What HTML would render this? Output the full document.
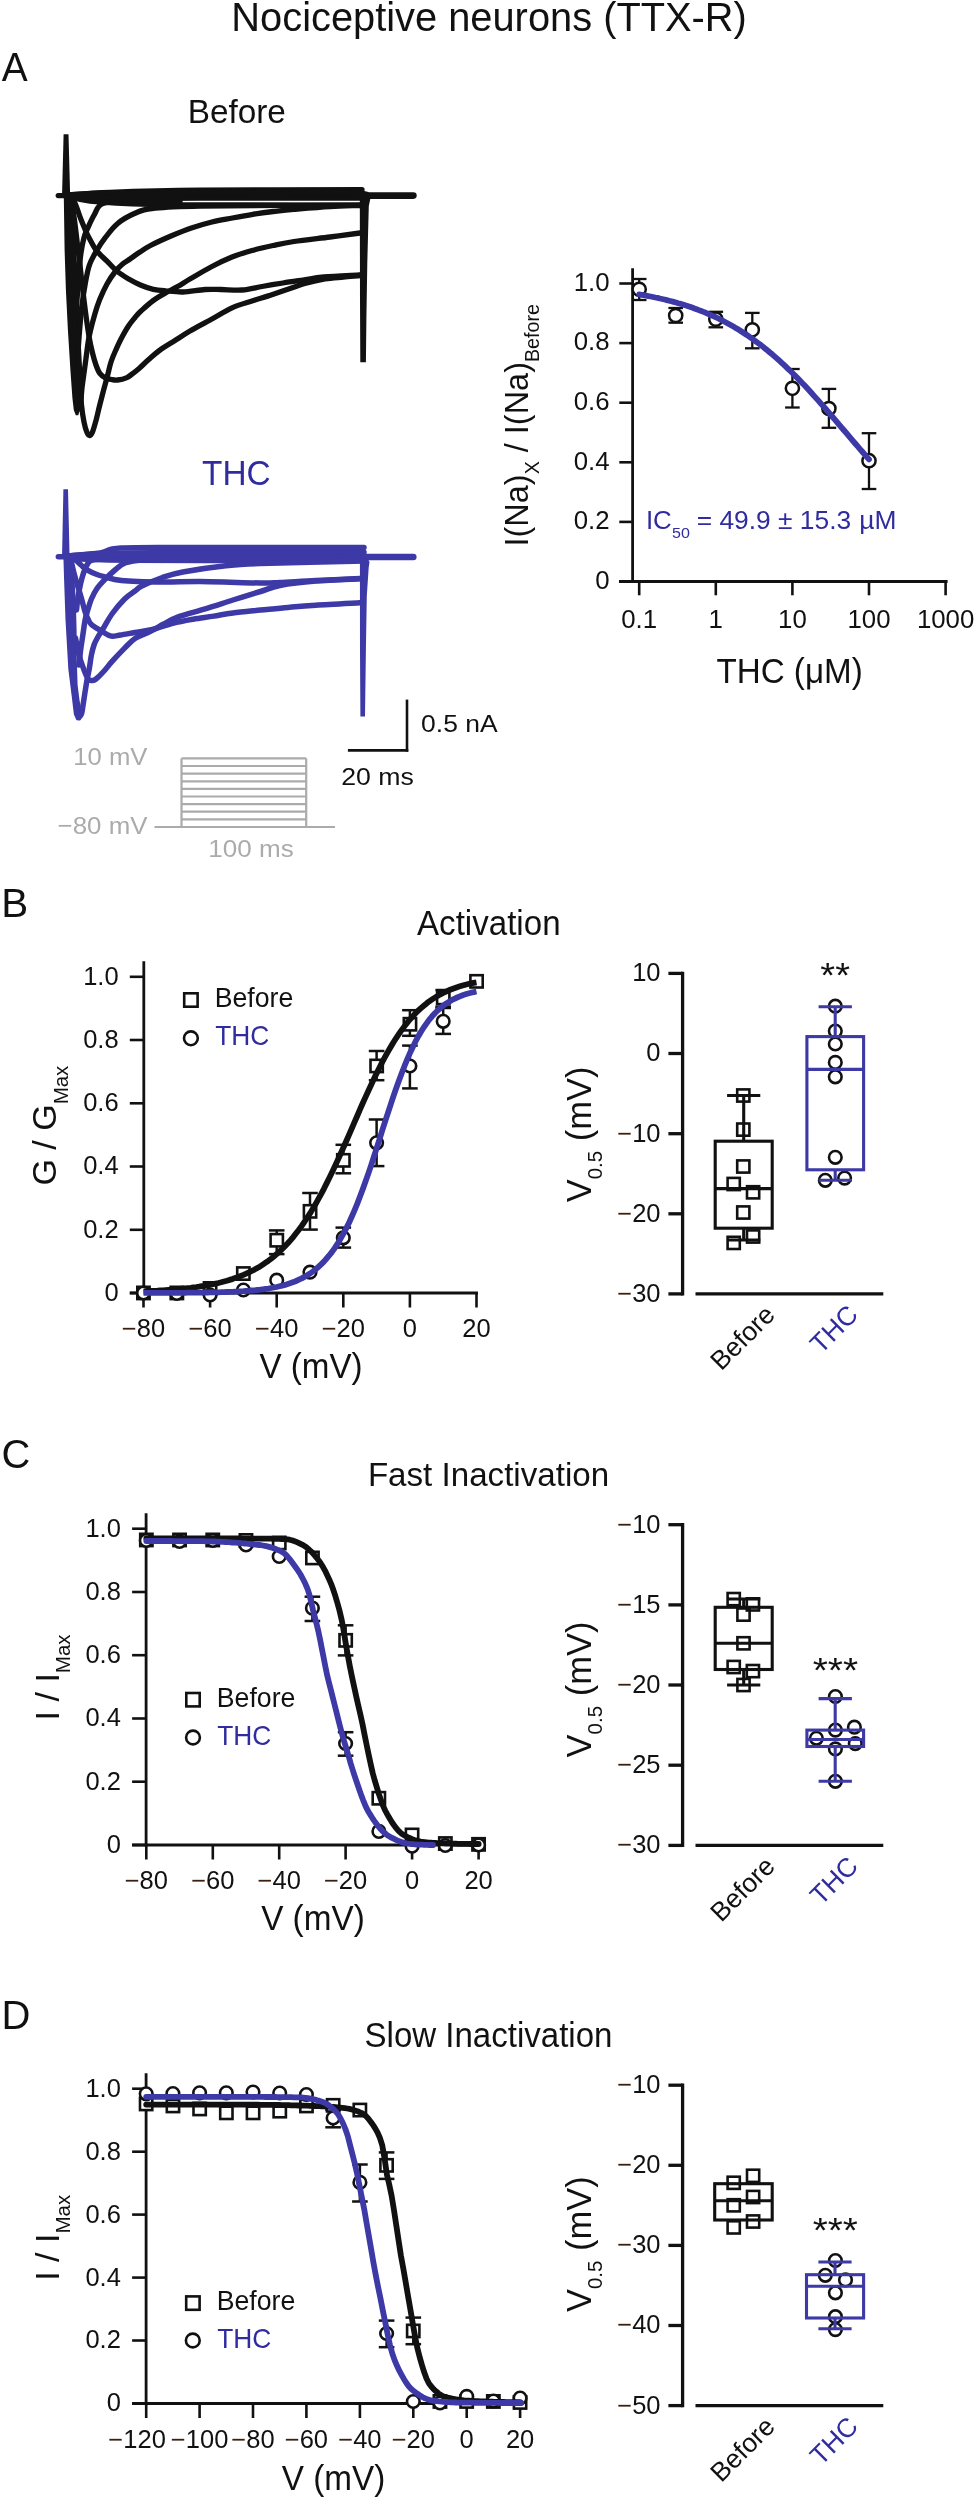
<!DOCTYPE html>
<html><head><meta charset="utf-8"><title>Nociceptive neurons (TTX-R)</title>
<style>
html,body{margin:0;padding:0;background:#fff;}
body{width:977px;height:2500px;overflow:hidden;}
svg{display:block;font-family:"Liberation Sans", sans-serif;will-change:transform;}
</style></head>
<body>
<svg width="977" height="2500" viewBox="0 0 977 2500">
<rect x="0" y="0" width="977" height="2500" fill="#fff"/>
<text x="231.33" y="30.70" font-size="40.8" fill="#111" textLength="515.54" lengthAdjust="spacingAndGlyphs" >Nociceptive neurons (TTX-R)</text>
<text x="1.72" y="80.60" font-size="41" fill="#111" textLength="25.95" lengthAdjust="spacingAndGlyphs" >A</text>
<text x="187.67" y="122.90" font-size="33.2" fill="#111" textLength="98.22" lengthAdjust="spacingAndGlyphs" >Before</text>
<text x="202.05" y="484.80" font-size="34.5" fill="#302ca0" textLength="68.52" lengthAdjust="spacingAndGlyphs" >THC</text>
<path d="M62.0,197.0 L63.6,134.2 L68.5,134.2 L70.2,197.0Z" fill="#111"/>
<path d="M359.8,190.0 L368.5,192.0 L370.5,198.0 L368.8,206.0 L367.3,263.0 L366.4,318.0 L365.9,362.2 L360.3,362.2 L360.0,300.0Z" fill="#111"/>
<path d="M58.2,195.6 L364.0,195.6" stroke="#111" stroke-width="5.2" fill="none" stroke-linejoin="round" stroke-linecap="round"/>
<path d="M364.0,195.6 L413.4,195.6" stroke="#111" stroke-width="6.6" fill="none" stroke-linejoin="round" stroke-linecap="round"/>
<path d="M66.0,195.0 C73.3,194.6 87.7,193.1 110.0,192.3 C132.3,191.5 158.0,190.6 200.0,190.2 C242.0,189.8 335.0,189.7 362.0,189.6" stroke="#111" stroke-width="5.3" fill="none" stroke-linejoin="round" stroke-linecap="round"/>
<path d="M68.0,196.0 C73.3,196.4 78.0,198.1 100.0,198.5 C122.0,198.9 156.3,198.3 200.0,198.2 C243.7,198.1 335.0,198.0 362.0,198.0" stroke="#111" stroke-width="5.3" fill="none" stroke-linejoin="round" stroke-linecap="round"/>
<path d="M68.0,196.0 C71.7,196.8 76.3,199.6 90.0,201.0 C103.7,202.4 123.3,203.6 150.0,204.3 C176.7,205.0 214.7,204.8 250.0,205.0 C285.3,205.2 343.3,205.2 362.0,205.2" stroke="#111" stroke-width="5.3" fill="none" stroke-linejoin="round" stroke-linecap="round"/>
<path d="M66.0,195.0 C73.3,194.7 87.7,193.4 110.0,193.0 C132.3,192.6 158.0,192.6 200.0,192.5 C242.0,192.4 335.0,192.5 362.0,192.5" stroke="#111" stroke-width="5.3" fill="none" stroke-linejoin="round" stroke-linecap="round"/>
<path d="M63.8,197.0 L64.6,250.0 L65.9,290.0 L67.9,330.0 L70.4,370.0 L72.4,398.0 L73.8,410.0 L75.8,415.3 L78.3,415.3 L80.2,408.0 L80.2,380.0 L79.5,340.0 L78.6,300.0 L77.4,270.0 L75.5,240.0 L73.4,215.0 L72.5,205.0 L74.0,199.0 L78.0,198.0Z" fill="#111"/>
<path d="M74.5,328.0 C74.7,325.9 75.3,320.8 75.8,315.2 C76.3,309.6 76.9,301.3 77.4,294.4 C77.9,287.5 78.3,280.5 78.9,273.6 C79.5,266.7 80.1,258.9 81.0,252.8 C81.9,246.7 82.9,241.5 84.1,237.2 C85.3,232.9 86.6,230.6 88.3,226.8 C90.0,223.0 92.1,218.2 94.5,214.3 C96.9,210.4 97.0,205.6 102.9,203.5 C108.8,201.4 117.2,201.8 130.0,201.5 C142.8,201.2 171.7,201.5 180.0,201.5" stroke="#111" stroke-width="5.3" fill="none" stroke-linejoin="round" stroke-linecap="round"/>
<path d="M76.5,378.0 C76.8,372.7 77.8,355.1 78.4,346.4 C79.0,337.7 79.4,332.5 80.0,325.6 C80.6,318.7 81.1,311.7 82.0,304.8 C82.9,297.9 84.0,290.6 85.2,284.0 C86.4,277.4 87.4,270.9 89.3,265.3 C91.2,259.8 94.0,255.2 96.6,250.7 C99.2,246.2 101.4,242.7 104.9,238.2 C108.4,233.7 112.4,227.8 117.4,223.7 C122.4,219.5 129.2,215.8 135.0,213.3 C140.8,210.8 141.2,209.7 152.0,208.5 C162.8,207.3 165.0,206.6 200.0,206.0 C235.0,205.4 335.0,205.3 362.0,205.2" stroke="#111" stroke-width="5.3" fill="none" stroke-linejoin="round" stroke-linecap="round"/>
<path d="M77.5,410.0 C78.0,408.9 79.8,407.3 80.5,403.6 C81.2,399.9 81.4,393.2 82.0,388.0 C82.6,382.8 83.4,377.6 84.1,372.4 C84.8,367.2 85.5,362.0 86.2,356.8 C86.9,351.6 87.6,345.5 88.3,341.2 C89.0,336.9 89.4,335.1 90.4,330.8 C91.4,326.5 93.0,320.4 94.5,315.2 C96.0,310.0 97.6,304.8 99.7,299.6 C101.8,294.4 104.4,288.7 107.0,284.0 C109.6,279.3 112.7,274.8 115.3,271.5 C117.9,268.2 120.1,266.1 122.6,264.0 C125.0,261.9 127.1,261.0 130.0,259.0 C132.9,257.0 136.6,254.2 140.0,252.0 C143.4,249.8 145.3,248.2 150.5,245.5 C155.7,242.8 164.2,238.9 171.0,236.0 C177.8,233.1 184.6,230.3 191.4,228.0 C198.2,225.7 205.1,223.7 211.9,222.0 C218.7,220.3 225.6,219.3 232.4,218.0 C239.2,216.7 246.0,215.4 252.8,214.3 C259.6,213.2 266.5,212.3 273.3,211.5 C280.1,210.7 284.4,210.1 293.8,209.3 C303.2,208.5 319.0,207.1 330.0,206.5 C341.0,205.9 355.0,205.7 360.0,205.5" stroke="#111" stroke-width="5.3" fill="none" stroke-linejoin="round" stroke-linecap="round"/>
<path d="M77.5,330.0 C77.8,335.0 78.5,350.8 79.0,360.0 C79.5,369.2 79.9,377.5 80.3,385.0 C80.7,392.5 80.9,398.8 81.5,405.0 C82.1,411.2 83.1,417.4 84.0,422.0 C84.9,426.6 86.0,430.2 87.0,432.5 C88.0,434.8 88.8,435.6 89.7,435.5 C90.6,435.4 91.5,434.4 92.5,432.0 C93.5,429.6 94.6,425.5 95.8,421.2 C97.0,416.9 98.2,411.1 99.5,406.0 C100.8,400.9 102.2,395.5 103.5,390.5 C104.8,385.5 106.2,380.8 107.4,376.0 C108.7,371.2 109.6,366.3 111.0,362.0 C112.4,357.7 114.1,353.8 115.8,350.0 C117.5,346.2 119.0,342.8 121.0,339.0 C123.0,335.2 125.5,330.6 127.8,327.0 C130.1,323.4 132.8,320.2 135.0,317.5 C137.2,314.8 137.9,313.8 141.0,311.0 C144.1,308.2 149.2,303.5 153.3,300.5 C157.4,297.5 161.4,295.3 165.5,293.0 C169.6,290.7 173.5,288.8 177.6,286.5 C181.7,284.2 184.3,282.3 190.0,279.0 C195.7,275.7 204.9,270.2 211.9,266.5 C218.9,262.8 225.3,259.7 232.0,257.0 C238.7,254.3 245.2,252.4 252.0,250.5 C258.8,248.6 266.0,247.0 273.0,245.5 C280.0,244.0 284.5,242.9 294.0,241.5 C303.5,240.1 319.0,238.4 330.0,237.0 C341.0,235.6 355.0,233.7 360.0,233.0" stroke="#111" stroke-width="5.3" fill="none" stroke-linejoin="round" stroke-linecap="round"/>
<path d="M72.0,205.0 C72.4,207.5 73.6,213.3 74.5,220.0 C75.4,226.7 76.6,237.5 77.5,245.0 C78.4,252.5 79.2,257.8 80.0,265.0 C80.8,272.2 81.6,280.2 82.5,288.0 C83.4,295.8 84.4,303.7 85.5,312.0 C86.6,320.3 88.1,331.2 89.3,338.0 C90.5,344.8 91.4,348.5 92.5,353.0 C93.6,357.5 94.8,361.6 96.0,365.0 C97.2,368.4 98.2,371.2 99.8,373.3 C101.4,375.4 103.5,376.8 105.4,377.8 C107.4,378.8 109.5,379.1 111.5,379.5 C113.5,379.9 115.0,380.3 117.6,380.0 C120.2,379.7 124.3,378.7 126.9,377.6 C129.5,376.5 131.0,374.8 133.0,373.3 C135.0,371.8 136.5,370.6 139.1,368.4 C141.7,366.1 145.0,362.8 148.4,359.8 C151.8,356.8 155.0,353.7 159.4,350.5 C163.8,347.3 169.9,343.8 175.0,340.5 C180.1,337.2 184.0,334.5 190.0,331.0 C196.0,327.5 204.0,323.4 211.0,319.5 C218.0,315.6 225.2,310.9 232.0,307.8 C238.8,304.7 245.2,303.2 252.0,301.0 C258.8,298.8 265.8,296.8 272.6,294.5 C279.4,292.2 287.6,289.3 293.0,287.5 C298.4,285.7 299.5,284.9 304.8,283.5 C310.1,282.1 318.6,280.1 325.0,279.0 C331.4,277.9 337.6,277.6 343.4,277.0 C349.2,276.4 357.2,275.8 360.0,275.5" stroke="#111" stroke-width="5.3" fill="none" stroke-linejoin="round" stroke-linecap="round"/>
<path d="M66.0,196.0 C67.3,196.8 71.2,196.9 73.7,200.8 C76.2,204.7 78.9,214.3 81.0,219.5 C83.1,224.7 84.8,228.9 86.2,232.0 C87.6,235.1 87.6,235.1 89.3,238.2 C91.0,241.3 93.6,246.9 96.6,250.7 C99.5,254.5 103.5,257.6 107.0,261.1 C110.5,264.6 113.8,268.5 117.4,271.5 C121.0,274.5 124.8,276.7 128.7,279.0 C132.6,281.3 136.9,283.5 141.0,285.2 C145.1,286.9 149.2,288.4 153.3,289.3 C157.4,290.2 160.6,290.4 165.5,290.8 C170.4,291.2 176.4,292.2 183.0,292.0 C189.6,291.8 198.7,289.9 205.0,289.5 C211.3,289.1 214.8,289.4 221.0,289.5 C227.2,289.6 235.2,290.5 242.0,290.0 C248.8,289.5 255.2,287.7 262.0,286.5 C268.8,285.3 276.2,284.1 283.0,283.0 C289.8,281.9 296.2,281.0 303.0,280.0 C309.8,279.0 314.5,277.9 324.0,277.0 C333.5,276.1 354.0,275.2 360.0,274.8" stroke="#111" stroke-width="5.3" fill="none" stroke-linejoin="round" stroke-linecap="round"/>
<path d="M62.0,558.0 L63.4,489.2 L68.0,489.2 L69.6,558.0Z" fill="#3d39a6"/>
<path d="M359.9,546.0 L364.5,546.0 L366.5,556.0 L369.5,562.0 L368.7,567.6 L366.8,596.0 L365.9,650.0 L365.0,716.4 L360.4,716.4 L360.0,650.0Z" fill="#3d39a6"/>
<path d="M58.3,556.8 L364.0,556.8" stroke="#3d39a6" stroke-width="5.4" fill="none" stroke-linejoin="round" stroke-linecap="round"/>
<path d="M364.0,557.0 L413.3,557.0" stroke="#3d39a6" stroke-width="6.6" fill="none" stroke-linejoin="round" stroke-linecap="round"/>
<path d="M66.0,556.0 C71.7,555.5 90.8,554.3 100.0,553.0 C109.2,551.7 104.3,548.9 121.0,548.0 C137.7,547.1 159.5,547.6 200.0,547.5 C240.5,547.4 336.7,547.6 364.0,547.6" stroke="#3d39a6" stroke-width="5.5" fill="none" stroke-linejoin="round" stroke-linecap="round"/>
<path d="M66.0,556.0 C73.3,555.6 87.7,554.1 110.0,553.5 C132.3,552.9 157.7,552.4 200.0,552.2 C242.3,552.0 336.7,552.2 364.0,552.2" stroke="#3d39a6" stroke-width="5.5" fill="none" stroke-linejoin="round" stroke-linecap="round"/>
<path d="M80.0,559.0 C88.3,559.2 101.7,560.0 130.0,560.2 C158.3,560.5 211.0,560.5 250.0,560.5 C289.0,560.5 345.0,560.2 364.0,560.2" stroke="#3d39a6" stroke-width="5.5" fill="none" stroke-linejoin="round" stroke-linecap="round"/>
<path d="M63.4,557.0 L64.1,580.0 L65.5,620.0 L68.3,669.0 L71.8,697.0 L73.9,714.6 L76.5,720.2 L80.5,720.2 L82.2,715.0 L79.5,700.0 L77.6,685.0 L76.8,660.0 L76.6,630.0 L75.8,600.0 L74.2,575.0 L72.0,560.0Z" fill="#3d39a6"/>
<path d="M76.5,610.0 C76.7,608.3 77.1,603.5 77.6,600.0 C78.1,596.5 78.8,592.7 79.5,589.0 C80.2,585.3 81.1,581.3 82.0,578.0 C82.9,574.7 83.8,571.8 85.1,569.0 C86.4,566.2 87.5,562.7 90.0,561.0 C92.5,559.3 98.3,559.3 100.0,559.0" stroke="#3d39a6" stroke-width="5.5" fill="none" stroke-linejoin="round" stroke-linecap="round"/>
<path d="M79.0,665.0 C79.3,662.2 80.2,653.2 80.9,648.0 C81.6,642.8 82.3,638.7 83.0,634.0 C83.7,629.3 84.3,624.1 85.1,620.0 C85.9,615.9 86.9,613.0 87.9,609.5 C89.0,606.0 89.9,602.5 91.4,599.0 C92.9,595.5 94.7,591.8 97.0,588.5 C99.3,585.2 102.0,582.5 105.0,579.4 C108.0,576.3 111.7,572.7 115.0,570.0 C118.3,567.3 120.8,564.7 125.0,563.0 C129.2,561.3 137.5,560.5 140.0,560.0" stroke="#3d39a6" stroke-width="5.5" fill="none" stroke-linejoin="round" stroke-linecap="round"/>
<path d="M78.8,717.5 C79.2,716.9 80.8,716.2 81.5,714.0 C82.2,711.8 82.4,709.2 83.2,704.0 C84.0,698.8 85.5,689.0 86.5,683.0 C87.5,677.0 88.6,672.7 89.4,668.0 C90.2,663.3 90.6,658.8 91.4,655.0 C92.2,651.2 93.0,647.9 94.0,645.0 C95.0,642.1 95.9,640.5 97.6,637.5 C99.3,634.5 101.6,631.0 104.1,627.0 C106.5,623.0 108.9,618.2 112.3,613.5 C115.7,608.8 120.8,602.8 124.6,599.0 C128.4,595.2 132.1,593.2 135.0,591.0 C137.9,588.8 137.3,588.2 141.9,586.0 C146.5,583.8 155.6,579.8 162.4,577.5 C169.2,575.2 172.6,573.9 182.8,572.0 C193.0,570.1 210.9,567.4 223.8,566.0 C236.7,564.6 236.6,564.3 260.0,563.5 C283.4,562.7 346.7,561.4 364.0,561.0" stroke="#3d39a6" stroke-width="5.5" fill="none" stroke-linejoin="round" stroke-linecap="round"/>
<path d="M75.5,638.0 C75.8,639.7 76.7,644.3 77.5,648.0 C78.3,651.7 79.2,655.9 80.5,660.0 C81.8,664.1 83.7,669.2 85.0,672.5 C86.3,675.8 87.4,678.2 88.6,679.5 C89.8,680.8 90.8,680.6 92.0,680.5 C93.2,680.4 94.0,680.6 96.0,679.0 C98.0,677.4 101.4,674.0 104.1,671.0 C106.8,668.0 108.9,665.0 112.3,661.2 C115.7,657.4 120.8,651.9 124.6,648.1 C128.4,644.3 130.8,641.3 135.0,638.5 C139.2,635.7 145.2,633.9 150.0,631.5 C154.8,629.1 159.2,626.4 163.8,624.0 C168.4,621.6 170.7,619.5 177.6,617.0 C184.5,614.5 196.1,611.6 205.3,608.8 C214.5,606.0 223.7,602.9 232.9,600.0 C242.1,597.1 252.7,593.9 260.5,591.5 C268.3,589.1 270.7,587.2 279.9,585.5 C289.1,583.8 302.4,582.2 315.8,581.1 C329.2,580.0 352.6,579.2 360.0,578.8" stroke="#3d39a6" stroke-width="5.5" fill="none" stroke-linejoin="round" stroke-linecap="round"/>
<path d="M70.0,558.0 C70.3,559.0 71.0,561.2 71.8,564.0 C72.5,566.8 73.6,571.5 74.5,575.0 C75.4,578.5 76.2,581.0 77.4,585.0 C78.6,589.0 80.3,594.5 81.6,599.0 C82.9,603.5 84.0,608.7 85.1,612.0 C86.2,615.3 87.0,616.9 88.0,619.0 C89.0,621.1 89.3,622.6 91.4,624.5 C93.5,626.4 97.8,628.8 100.5,630.5 C103.2,632.2 105.4,633.6 107.4,634.6 C109.4,635.6 110.1,636.1 112.3,636.2 C114.5,636.3 116.7,635.6 120.5,635.0 C124.3,634.4 129.7,633.4 135.0,632.5 C140.3,631.6 146.1,631.0 152.4,629.5 C158.7,628.0 166.0,625.0 172.8,623.3 C179.6,621.6 186.5,620.4 193.3,619.2 C200.1,618.0 207.2,617.2 213.8,616.1 C220.4,615.0 225.1,613.9 232.9,612.9 C240.7,611.9 251.3,611.0 260.5,610.1 C269.7,609.2 279.0,608.2 288.2,607.4 C297.4,606.6 303.8,606.0 315.8,605.2 C327.8,604.4 352.6,603.2 360.0,602.8" stroke="#3d39a6" stroke-width="5.5" fill="none" stroke-linejoin="round" stroke-linecap="round"/>
<path d="M70.0,558.0 C71.0,558.4 74.2,559.3 76.0,560.5 C77.8,561.7 79.2,563.5 81.0,565.0 C82.8,566.5 83.8,568.0 86.5,569.6 C89.2,571.2 93.9,573.3 97.0,574.5 C100.1,575.7 100.9,575.8 105.0,576.8 C109.1,577.8 111.8,579.6 121.4,580.5 C131.0,581.4 149.3,581.9 162.4,582.1 C175.5,582.3 183.7,581.4 200.0,581.5 C216.3,581.6 246.7,582.8 260.0,583.0 C273.3,583.2 270.7,582.9 280.0,582.5 C289.3,582.1 302.5,581.1 315.8,580.5 C329.1,579.9 352.6,578.9 360.0,578.6" stroke="#3d39a6" stroke-width="5.5" fill="none" stroke-linejoin="round" stroke-linecap="round"/>
<line x1="407.0" y1="699.6" x2="407.0" y2="751.7" stroke="#111" stroke-width="2.6" stroke-linecap="butt"/>
<line x1="347.9" y1="750.4" x2="408.3" y2="750.4" stroke="#111" stroke-width="2.6" stroke-linecap="butt"/>
<text x="421.07" y="731.50" font-size="24.2" fill="#111" textLength="76.59" lengthAdjust="spacingAndGlyphs" >0.5 nA</text>
<text x="341.16" y="784.90" font-size="24.2" fill="#111" textLength="72.71" lengthAdjust="spacingAndGlyphs" >20 ms</text>
<line x1="154.5" y1="827.0" x2="335.0" y2="827.0" stroke="#ababab" stroke-width="2.2" stroke-linecap="butt"/>
<line x1="181.5" y1="758.4" x2="181.5" y2="827.0" stroke="#ababab" stroke-width="2.2" stroke-linecap="butt"/>
<line x1="306.2" y1="758.4" x2="306.2" y2="827.0" stroke="#ababab" stroke-width="2.2" stroke-linecap="butt"/>
<line x1="181.5" y1="758.4" x2="306.2" y2="758.4" stroke="#ababab" stroke-width="2.2" stroke-linecap="butt"/>
<line x1="181.5" y1="766.0" x2="306.2" y2="766.0" stroke="#ababab" stroke-width="2.2" stroke-linecap="butt"/>
<line x1="181.5" y1="773.6" x2="306.2" y2="773.6" stroke="#ababab" stroke-width="2.2" stroke-linecap="butt"/>
<line x1="181.5" y1="781.3" x2="306.2" y2="781.3" stroke="#ababab" stroke-width="2.2" stroke-linecap="butt"/>
<line x1="181.5" y1="788.9" x2="306.2" y2="788.9" stroke="#ababab" stroke-width="2.2" stroke-linecap="butt"/>
<line x1="181.5" y1="796.5" x2="306.2" y2="796.5" stroke="#ababab" stroke-width="2.2" stroke-linecap="butt"/>
<line x1="181.5" y1="804.1" x2="306.2" y2="804.1" stroke="#ababab" stroke-width="2.2" stroke-linecap="butt"/>
<line x1="181.5" y1="811.7" x2="306.2" y2="811.7" stroke="#ababab" stroke-width="2.2" stroke-linecap="butt"/>
<line x1="181.5" y1="819.4" x2="306.2" y2="819.4" stroke="#ababab" stroke-width="2.2" stroke-linecap="butt"/>
<text x="73.24" y="765.20" font-size="24.6" fill="#ababab" textLength="74.27" lengthAdjust="spacingAndGlyphs" >10 mV</text>
<text x="57.62" y="833.50" font-size="24.6" fill="#ababab" textLength="89.89" lengthAdjust="spacingAndGlyphs" >−80 mV</text>
<text x="208.32" y="857.20" font-size="24.6" fill="#ababab" textLength="85.43" lengthAdjust="spacingAndGlyphs" >100 ms</text>
<line x1="632.6" y1="268.2" x2="632.6" y2="582.9" stroke="#111" stroke-width="2.8" stroke-linecap="butt"/>
<line x1="619.0" y1="581.5" x2="947.6" y2="581.5" stroke="#111" stroke-width="2.8" stroke-linecap="butt"/>
<line x1="619.3" y1="283.5" x2="632.6" y2="283.5" stroke="#111" stroke-width="2.6" stroke-linecap="butt"/>
<text x="609.5" y="290.7" font-size="25.8" text-anchor="end" fill="#111" >1.0</text>
<line x1="619.3" y1="343.1" x2="632.6" y2="343.1" stroke="#111" stroke-width="2.6" stroke-linecap="butt"/>
<text x="609.5" y="350.3" font-size="25.8" text-anchor="end" fill="#111" >0.8</text>
<line x1="619.3" y1="402.7" x2="632.6" y2="402.7" stroke="#111" stroke-width="2.6" stroke-linecap="butt"/>
<text x="609.5" y="409.9" font-size="25.8" text-anchor="end" fill="#111" >0.6</text>
<line x1="619.3" y1="462.3" x2="632.6" y2="462.3" stroke="#111" stroke-width="2.6" stroke-linecap="butt"/>
<text x="609.5" y="469.5" font-size="25.8" text-anchor="end" fill="#111" >0.4</text>
<line x1="619.3" y1="521.9" x2="632.6" y2="521.9" stroke="#111" stroke-width="2.6" stroke-linecap="butt"/>
<text x="609.5" y="529.1" font-size="25.8" text-anchor="end" fill="#111" >0.2</text>
<line x1="619.3" y1="581.5" x2="632.6" y2="581.5" stroke="#111" stroke-width="2.6" stroke-linecap="butt"/>
<text x="609.5" y="588.7" font-size="25.8" text-anchor="end" fill="#111" >0</text>
<line x1="639.2" y1="581.5" x2="639.2" y2="595.3" stroke="#111" stroke-width="2.6" stroke-linecap="butt"/>
<text x="639.2" y="627.9" font-size="25.8" text-anchor="middle" fill="#111" >0.1</text>
<line x1="715.8" y1="581.5" x2="715.8" y2="595.3" stroke="#111" stroke-width="2.6" stroke-linecap="butt"/>
<text x="715.8" y="627.9" font-size="25.8" text-anchor="middle" fill="#111" >1</text>
<line x1="792.4" y1="581.5" x2="792.4" y2="595.3" stroke="#111" stroke-width="2.6" stroke-linecap="butt"/>
<text x="792.4" y="627.9" font-size="25.8" text-anchor="middle" fill="#111" >10</text>
<line x1="869.0" y1="581.5" x2="869.0" y2="595.3" stroke="#111" stroke-width="2.6" stroke-linecap="butt"/>
<text x="869.0" y="627.9" font-size="25.8" text-anchor="middle" fill="#111" >100</text>
<line x1="945.6" y1="581.5" x2="945.6" y2="595.3" stroke="#111" stroke-width="2.6" stroke-linecap="butt"/>
<text x="945.6" y="627.9" font-size="25.8" text-anchor="middle" fill="#111" >1000</text>
<text x="716.45" y="682.70" font-size="34.4" fill="#111" textLength="146.30" lengthAdjust="spacingAndGlyphs" >THC (μM)</text>
<text transform="translate(527.7,546.5) rotate(-90) scale(0.961,1)" font-size="33.8" fill="#111">I(Na)<tspan font-size="20.5" dy="11.5">X</tspan><tspan dy="-11.5"> / I(Na)</tspan><tspan font-size="20.5" dy="11.5">Before</tspan></text>
<line x1="639.2" y1="279.0" x2="639.2" y2="300.0" stroke="#111" stroke-width="2.3" stroke-linecap="butt"/>
<line x1="631.9" y1="279.0" x2="646.5" y2="279.0" stroke="#111" stroke-width="2.3" stroke-linecap="butt"/>
<line x1="631.9" y1="300.0" x2="646.5" y2="300.0" stroke="#111" stroke-width="2.3" stroke-linecap="butt"/>
<circle cx="639.2" cy="289.3" r="6.60" stroke="#111" stroke-width="2.5" fill="#fff"/>
<line x1="675.7" y1="308.0" x2="675.7" y2="322.7" stroke="#111" stroke-width="2.3" stroke-linecap="butt"/>
<line x1="668.4" y1="308.0" x2="683.0" y2="308.0" stroke="#111" stroke-width="2.3" stroke-linecap="butt"/>
<line x1="668.4" y1="322.7" x2="683.0" y2="322.7" stroke="#111" stroke-width="2.3" stroke-linecap="butt"/>
<circle cx="675.7" cy="315.5" r="6.60" stroke="#111" stroke-width="2.5" fill="#fff"/>
<line x1="715.8" y1="311.8" x2="715.8" y2="327.3" stroke="#111" stroke-width="2.3" stroke-linecap="butt"/>
<line x1="708.5" y1="311.8" x2="723.1" y2="311.8" stroke="#111" stroke-width="2.3" stroke-linecap="butt"/>
<line x1="708.5" y1="327.3" x2="723.1" y2="327.3" stroke="#111" stroke-width="2.3" stroke-linecap="butt"/>
<circle cx="715.8" cy="319.1" r="6.60" stroke="#111" stroke-width="2.5" fill="#fff"/>
<line x1="752.3" y1="312.9" x2="752.3" y2="348.3" stroke="#111" stroke-width="2.3" stroke-linecap="butt"/>
<line x1="745.0" y1="312.9" x2="759.6" y2="312.9" stroke="#111" stroke-width="2.3" stroke-linecap="butt"/>
<line x1="745.0" y1="348.3" x2="759.6" y2="348.3" stroke="#111" stroke-width="2.3" stroke-linecap="butt"/>
<circle cx="752.3" cy="329.8" r="6.60" stroke="#111" stroke-width="2.5" fill="#fff"/>
<line x1="792.4" y1="369.0" x2="792.4" y2="407.5" stroke="#111" stroke-width="2.3" stroke-linecap="butt"/>
<line x1="785.1" y1="369.0" x2="799.7" y2="369.0" stroke="#111" stroke-width="2.3" stroke-linecap="butt"/>
<line x1="785.1" y1="407.5" x2="799.7" y2="407.5" stroke="#111" stroke-width="2.3" stroke-linecap="butt"/>
<circle cx="792.4" cy="388.3" r="6.60" stroke="#111" stroke-width="2.5" fill="#fff"/>
<line x1="828.9" y1="388.9" x2="828.9" y2="427.8" stroke="#111" stroke-width="2.3" stroke-linecap="butt"/>
<line x1="821.6" y1="388.9" x2="836.2" y2="388.9" stroke="#111" stroke-width="2.3" stroke-linecap="butt"/>
<line x1="821.6" y1="427.8" x2="836.2" y2="427.8" stroke="#111" stroke-width="2.3" stroke-linecap="butt"/>
<circle cx="828.9" cy="408.5" r="6.60" stroke="#111" stroke-width="2.5" fill="#fff"/>
<line x1="869.0" y1="433.2" x2="869.0" y2="489.0" stroke="#111" stroke-width="2.3" stroke-linecap="butt"/>
<line x1="861.7" y1="433.2" x2="876.3" y2="433.2" stroke="#111" stroke-width="2.3" stroke-linecap="butt"/>
<line x1="861.7" y1="489.0" x2="876.3" y2="489.0" stroke="#111" stroke-width="2.3" stroke-linecap="butt"/>
<circle cx="869.0" cy="460.7" r="6.60" stroke="#111" stroke-width="2.5" fill="#fff"/>
<path d="M639.2,294.4 L641.5,294.8 L643.8,295.2 L646.1,295.6 L648.4,296.1 L650.7,296.5 L653.0,297.0 L655.3,297.5 L657.6,297.9 L659.9,298.5 L662.2,299.0 L664.5,299.5 L666.8,300.1 L669.1,300.7 L671.4,301.3 L673.7,301.9 L676.0,302.5 L678.3,303.2 L680.6,303.8 L682.9,304.5 L685.2,305.3 L687.5,306.0 L689.8,306.8 L692.1,307.6 L694.4,308.4 L696.6,309.2 L698.9,310.1 L701.2,311.0 L703.5,311.9 L705.8,312.8 L708.1,313.8 L710.4,314.8 L712.7,315.9 L715.0,316.9 L717.3,318.0 L719.6,319.1 L721.9,320.3 L724.2,321.5 L726.5,322.7 L728.8,324.0 L731.1,325.3 L733.4,326.6 L735.7,327.9 L738.0,329.3 L740.3,330.7 L742.6,332.2 L744.9,333.7 L747.2,335.2 L749.5,336.8 L751.8,338.4 L754.1,340.1 L756.4,341.8 L758.7,343.5 L761.0,345.2 L763.3,347.0 L765.6,348.9 L767.9,350.7 L770.2,352.7 L772.5,354.6 L774.8,356.6 L777.1,358.6 L779.4,360.7 L781.7,362.8 L784.0,364.9 L786.3,367.1 L788.6,369.3 L790.9,371.5 L793.2,373.8 L795.5,376.1 L797.8,378.4 L800.1,380.8 L802.4,383.2 L804.7,385.6 L807.0,388.0 L809.3,390.5 L811.5,393.0 L813.8,395.6 L816.1,398.1 L818.4,400.7 L820.7,403.3 L823.0,405.9 L825.3,408.5 L827.6,411.2 L829.9,413.8 L832.2,416.5 L834.5,419.2 L836.8,421.9 L839.1,424.6 L841.4,427.3 L843.7,430.0 L846.0,432.7 L848.3,435.4 L850.6,438.1 L852.9,440.8 L855.2,443.5 L857.5,446.2 L859.8,448.8 L862.1,451.5 L864.4,454.2 L866.7,456.8 L869.0,459.4" stroke="#3d39a6" stroke-width="5.8" fill="none" stroke-linejoin="round" stroke-linecap="round"/>
<text x="645.91" y="529.40" font-size="26.0" fill="#302ca0" textLength="25.87" lengthAdjust="spacingAndGlyphs" >IC</text>
<text x="671.96" y="538.00" font-size="14.0" fill="#302ca0" textLength="17.87" lengthAdjust="spacingAndGlyphs" >50</text>
<text x="696.71" y="529.40" font-size="26.0" fill="#302ca0" textLength="154.45" lengthAdjust="spacingAndGlyphs" >= 49.9 ± 15.3</text>
<text x="859.20" y="529.40" font-size="26.0" fill="#302ca0" textLength="37.17" lengthAdjust="spacingAndGlyphs" >µM</text>
<text x="1.29" y="916.50" font-size="40.5" fill="#111" textLength="26.94" lengthAdjust="spacingAndGlyphs" >B</text>
<text x="417.04" y="934.60" font-size="34.7" fill="#111" textLength="143.51" lengthAdjust="spacingAndGlyphs" >Activation</text>
<line x1="143.8" y1="961.3" x2="143.8" y2="1294.4" stroke="#111" stroke-width="2.8" stroke-linecap="butt"/>
<line x1="129.8" y1="1293.0" x2="478.0" y2="1293.0" stroke="#111" stroke-width="2.8" stroke-linecap="butt"/>
<line x1="129.8" y1="1293.0" x2="143.8" y2="1293.0" stroke="#111" stroke-width="2.6" stroke-linecap="butt"/>
<text x="118.6" y="1300.9" font-size="25.5" text-anchor="end" fill="#111" >0</text>
<line x1="129.8" y1="1229.8" x2="143.8" y2="1229.8" stroke="#111" stroke-width="2.6" stroke-linecap="butt"/>
<text x="118.6" y="1237.7" font-size="25.5" text-anchor="end" fill="#111" >0.2</text>
<line x1="129.8" y1="1166.5" x2="143.8" y2="1166.5" stroke="#111" stroke-width="2.6" stroke-linecap="butt"/>
<text x="118.6" y="1174.4" font-size="25.5" text-anchor="end" fill="#111" >0.4</text>
<line x1="129.8" y1="1103.3" x2="143.8" y2="1103.3" stroke="#111" stroke-width="2.6" stroke-linecap="butt"/>
<text x="118.6" y="1111.2" font-size="25.5" text-anchor="end" fill="#111" >0.6</text>
<line x1="129.8" y1="1040.0" x2="143.8" y2="1040.0" stroke="#111" stroke-width="2.6" stroke-linecap="butt"/>
<text x="118.6" y="1047.9" font-size="25.5" text-anchor="end" fill="#111" >0.8</text>
<line x1="129.8" y1="976.8" x2="143.8" y2="976.8" stroke="#111" stroke-width="2.6" stroke-linecap="butt"/>
<text x="118.6" y="984.7" font-size="25.5" text-anchor="end" fill="#111" >1.0</text>
<line x1="143.5" y1="1293.0" x2="143.5" y2="1307.5" stroke="#111" stroke-width="2.6" stroke-linecap="butt"/>
<text x="143.5" y="1337.3" font-size="25.5" text-anchor="middle" fill="#111" ><tspan fill="#3b1f10">−</tspan>80</text>
<line x1="210.1" y1="1293.0" x2="210.1" y2="1307.5" stroke="#111" stroke-width="2.6" stroke-linecap="butt"/>
<text x="210.1" y="1337.3" font-size="25.5" text-anchor="middle" fill="#111" ><tspan fill="#3b1f10">−</tspan>60</text>
<line x1="276.7" y1="1293.0" x2="276.7" y2="1307.5" stroke="#111" stroke-width="2.6" stroke-linecap="butt"/>
<text x="276.7" y="1337.3" font-size="25.5" text-anchor="middle" fill="#111" ><tspan fill="#3b1f10">−</tspan>40</text>
<line x1="343.3" y1="1293.0" x2="343.3" y2="1307.5" stroke="#111" stroke-width="2.6" stroke-linecap="butt"/>
<text x="343.3" y="1337.3" font-size="25.5" text-anchor="middle" fill="#111" ><tspan fill="#3b1f10">−</tspan>20</text>
<line x1="409.9" y1="1293.0" x2="409.9" y2="1307.5" stroke="#111" stroke-width="2.6" stroke-linecap="butt"/>
<text x="409.9" y="1337.3" font-size="25.5" text-anchor="middle" fill="#111" >0</text>
<line x1="476.5" y1="1293.0" x2="476.5" y2="1307.5" stroke="#111" stroke-width="2.6" stroke-linecap="butt"/>
<text x="476.5" y="1337.3" font-size="25.5" text-anchor="middle" fill="#111" >20</text>
<text x="259.45" y="1378.20" font-size="34.9" fill="#111" textLength="103.10" lengthAdjust="spacingAndGlyphs" >V (mV)</text>
<text transform="translate(56.1,1185.6) rotate(-90)" font-size="34" fill="#111">G / G<tspan font-size="20.5" dy="11.5">Max</tspan></text>
<rect x="184.2" y="993.3" width="13.4" height="13.4" stroke="#111" stroke-width="2.6" fill="#fff"/>
<text x="214.71" y="1007.20" font-size="27.0" fill="#111" textLength="78.57" lengthAdjust="spacingAndGlyphs" >Before</text>
<circle cx="190.9" cy="1038.3" r="6.90" stroke="#111" stroke-width="2.6" fill="#fff"/>
<text x="215.21" y="1045.40" font-size="27.5" fill="#302ca0" textLength="54.09" lengthAdjust="spacingAndGlyphs" >THC</text>
<line x1="276.7" y1="1230.4" x2="276.7" y2="1254.1" stroke="#111" stroke-width="2.5" stroke-linecap="butt"/>
<line x1="268.9" y1="1230.4" x2="284.5" y2="1230.4" stroke="#111" stroke-width="2.5" stroke-linecap="butt"/>
<line x1="268.9" y1="1254.1" x2="284.5" y2="1254.1" stroke="#111" stroke-width="2.5" stroke-linecap="butt"/>
<line x1="310.0" y1="1193.0" x2="310.0" y2="1229.6" stroke="#111" stroke-width="2.5" stroke-linecap="butt"/>
<line x1="302.2" y1="1193.0" x2="317.8" y2="1193.0" stroke="#111" stroke-width="2.5" stroke-linecap="butt"/>
<line x1="302.2" y1="1229.6" x2="317.8" y2="1229.6" stroke="#111" stroke-width="2.5" stroke-linecap="butt"/>
<line x1="343.3" y1="1144.8" x2="343.3" y2="1173.3" stroke="#111" stroke-width="2.5" stroke-linecap="butt"/>
<line x1="335.5" y1="1144.8" x2="351.1" y2="1144.8" stroke="#111" stroke-width="2.5" stroke-linecap="butt"/>
<line x1="335.5" y1="1173.3" x2="351.1" y2="1173.3" stroke="#111" stroke-width="2.5" stroke-linecap="butt"/>
<line x1="376.6" y1="1051.0" x2="376.6" y2="1080.2" stroke="#111" stroke-width="2.5" stroke-linecap="butt"/>
<line x1="368.8" y1="1051.0" x2="384.4" y2="1051.0" stroke="#111" stroke-width="2.5" stroke-linecap="butt"/>
<line x1="368.8" y1="1080.2" x2="384.4" y2="1080.2" stroke="#111" stroke-width="2.5" stroke-linecap="butt"/>
<line x1="409.9" y1="1010.2" x2="409.9" y2="1035.8" stroke="#111" stroke-width="2.5" stroke-linecap="butt"/>
<line x1="402.1" y1="1010.2" x2="417.7" y2="1010.2" stroke="#111" stroke-width="2.5" stroke-linecap="butt"/>
<line x1="402.1" y1="1035.8" x2="417.7" y2="1035.8" stroke="#111" stroke-width="2.5" stroke-linecap="butt"/>
<line x1="443.2" y1="990.0" x2="443.2" y2="1006.7" stroke="#111" stroke-width="2.5" stroke-linecap="butt"/>
<line x1="435.4" y1="990.0" x2="451.0" y2="990.0" stroke="#111" stroke-width="2.5" stroke-linecap="butt"/>
<line x1="435.4" y1="1006.7" x2="451.0" y2="1006.7" stroke="#111" stroke-width="2.5" stroke-linecap="butt"/>
<line x1="343.3" y1="1227.6" x2="343.3" y2="1247.6" stroke="#111" stroke-width="2.5" stroke-linecap="butt"/>
<line x1="335.5" y1="1227.6" x2="351.1" y2="1227.6" stroke="#111" stroke-width="2.5" stroke-linecap="butt"/>
<line x1="335.5" y1="1247.6" x2="351.1" y2="1247.6" stroke="#111" stroke-width="2.5" stroke-linecap="butt"/>
<line x1="376.6" y1="1119.5" x2="376.6" y2="1166.1" stroke="#111" stroke-width="2.5" stroke-linecap="butt"/>
<line x1="368.8" y1="1119.5" x2="384.4" y2="1119.5" stroke="#111" stroke-width="2.5" stroke-linecap="butt"/>
<line x1="368.8" y1="1166.1" x2="384.4" y2="1166.1" stroke="#111" stroke-width="2.5" stroke-linecap="butt"/>
<line x1="409.9" y1="1045.6" x2="409.9" y2="1088.4" stroke="#111" stroke-width="2.5" stroke-linecap="butt"/>
<line x1="402.1" y1="1045.6" x2="417.7" y2="1045.6" stroke="#111" stroke-width="2.5" stroke-linecap="butt"/>
<line x1="402.1" y1="1088.4" x2="417.7" y2="1088.4" stroke="#111" stroke-width="2.5" stroke-linecap="butt"/>
<line x1="443.2" y1="1008.0" x2="443.2" y2="1033.9" stroke="#111" stroke-width="2.5" stroke-linecap="butt"/>
<line x1="435.4" y1="1008.0" x2="451.0" y2="1008.0" stroke="#111" stroke-width="2.5" stroke-linecap="butt"/>
<line x1="435.4" y1="1033.9" x2="451.0" y2="1033.9" stroke="#111" stroke-width="2.5" stroke-linecap="butt"/>
<rect x="137.3" y="1286.8" width="12.3" height="12.3" stroke="#111" stroke-width="2.6" fill="#fff"/>
<rect x="170.7" y="1286.8" width="12.3" height="12.3" stroke="#111" stroke-width="2.6" fill="#fff"/>
<rect x="203.9" y="1282.3" width="12.3" height="12.3" stroke="#111" stroke-width="2.6" fill="#fff"/>
<rect x="237.2" y="1267.4" width="12.3" height="12.3" stroke="#111" stroke-width="2.6" fill="#fff"/>
<rect x="270.6" y="1234.1" width="12.3" height="12.3" stroke="#111" stroke-width="2.6" fill="#fff"/>
<rect x="303.9" y="1205.2" width="12.3" height="12.3" stroke="#111" stroke-width="2.6" fill="#fff"/>
<rect x="337.2" y="1154.2" width="12.3" height="12.3" stroke="#111" stroke-width="2.6" fill="#fff"/>
<rect x="370.5" y="1059.8" width="12.3" height="12.3" stroke="#111" stroke-width="2.6" fill="#fff"/>
<rect x="403.8" y="1018.1" width="12.3" height="12.3" stroke="#111" stroke-width="2.6" fill="#fff"/>
<rect x="437.1" y="991.8" width="12.3" height="12.3" stroke="#111" stroke-width="2.6" fill="#fff"/>
<rect x="470.4" y="975.2" width="12.3" height="12.3" stroke="#111" stroke-width="2.6" fill="#fff"/>
<circle cx="143.5" cy="1293.0" r="6.30" stroke="#111" stroke-width="2.6" fill="#fff"/>
<circle cx="176.8" cy="1293.5" r="6.30" stroke="#111" stroke-width="2.6" fill="#fff"/>
<circle cx="210.1" cy="1295.0" r="6.30" stroke="#111" stroke-width="2.6" fill="#fff"/>
<circle cx="243.4" cy="1290.0" r="6.30" stroke="#111" stroke-width="2.6" fill="#fff"/>
<circle cx="276.7" cy="1280.2" r="6.30" stroke="#111" stroke-width="2.6" fill="#fff"/>
<circle cx="310.0" cy="1272.2" r="6.30" stroke="#111" stroke-width="2.6" fill="#fff"/>
<circle cx="343.3" cy="1237.8" r="6.30" stroke="#111" stroke-width="2.6" fill="#fff"/>
<circle cx="376.6" cy="1142.8" r="6.30" stroke="#111" stroke-width="2.6" fill="#fff"/>
<circle cx="409.9" cy="1066.0" r="6.30" stroke="#111" stroke-width="2.6" fill="#fff"/>
<circle cx="443.2" cy="1021.3" r="6.30" stroke="#111" stroke-width="2.6" fill="#fff"/>
<path d="M143.5,1291.3 L146.3,1291.2 L149.1,1291.1 L151.8,1290.9 L154.6,1290.8 L157.4,1290.7 L160.2,1290.5 L162.9,1290.3 L165.7,1290.1 L168.5,1289.9 L171.2,1289.7 L174.0,1289.5 L176.8,1289.3 L179.6,1289.0 L182.3,1288.7 L185.1,1288.4 L187.9,1288.1 L190.7,1287.8 L193.4,1287.4 L196.2,1287.1 L199.0,1286.7 L201.8,1286.2 L204.6,1285.8 L207.3,1285.3 L210.1,1284.8 L212.9,1284.2 L215.7,1283.6 L218.4,1283.0 L221.2,1282.3 L224.0,1281.5 L226.8,1280.8 L229.5,1279.9 L232.3,1279.1 L235.1,1278.1 L237.8,1277.1 L240.6,1276.0 L243.4,1274.9 L246.2,1273.7 L248.9,1272.4 L251.7,1271.0 L254.5,1269.6 L257.3,1268.0 L260.1,1266.4 L262.8,1264.6 L265.6,1262.7 L268.4,1260.8 L271.1,1258.7 L273.9,1256.4 L276.7,1254.1 L279.5,1251.6 L282.2,1248.9 L285.0,1246.1 L287.8,1243.2 L290.6,1240.1 L293.4,1236.8 L296.1,1233.3 L298.9,1229.7 L301.7,1225.9 L304.4,1221.9 L307.2,1217.7 L310.0,1213.4 L312.8,1208.8 L315.6,1204.1 L318.3,1199.2 L321.1,1194.1 L323.9,1188.8 L326.6,1183.4 L329.4,1177.8 L332.2,1172.0 L335.0,1166.1 L337.8,1160.1 L340.5,1154.0 L343.3,1147.8 L346.1,1141.5 L348.9,1135.1 L351.6,1128.8 L354.4,1122.4 L357.2,1116.0 L359.9,1109.6 L362.7,1103.3 L365.5,1097.1 L368.3,1091.0 L371.1,1085.0 L373.8,1079.1 L376.6,1073.4 L379.4,1067.8 L382.1,1062.4 L384.9,1057.2 L387.7,1052.2 L390.5,1047.3 L393.2,1042.7 L396.0,1038.3 L398.8,1034.2 L401.6,1030.2 L404.4,1026.4 L407.1,1022.9 L409.9,1019.5 L412.7,1016.4 L415.4,1013.4 L418.2,1010.7 L421.0,1008.1 L423.8,1005.7 L426.6,1003.4 L429.3,1001.3 L432.1,999.4 L434.9,997.6 L437.6,995.9 L440.4,994.3 L443.2,992.9 L446.0,991.6 L448.8,990.3 L451.5,989.2 L454.3,988.2 L457.1,987.2 L459.9,986.3 L462.6,985.5 L465.4,984.7 L468.2,984.0 L470.9,983.4 L473.7,982.8 L476.5,982.3" stroke="#111" stroke-width="5.8" fill="none" stroke-linejoin="round" stroke-linecap="butt"/>
<path d="M143.5,1292.9 L146.3,1292.9 L149.1,1292.9 L151.8,1292.9 L154.6,1292.9 L157.4,1292.9 L160.2,1292.9 L162.9,1292.9 L165.7,1292.9 L168.5,1292.9 L171.2,1292.9 L174.0,1292.8 L176.8,1292.8 L179.6,1292.8 L182.3,1292.8 L185.1,1292.8 L187.9,1292.7 L190.7,1292.7 L193.4,1292.7 L196.2,1292.7 L199.0,1292.6 L201.8,1292.6 L204.6,1292.5 L207.3,1292.5 L210.1,1292.4 L212.9,1292.4 L215.7,1292.3 L218.4,1292.3 L221.2,1292.2 L224.0,1292.1 L226.8,1292.0 L229.5,1291.9 L232.3,1291.8 L235.1,1291.6 L237.8,1291.5 L240.6,1291.3 L243.4,1291.2 L246.2,1291.0 L248.9,1290.8 L251.7,1290.5 L254.5,1290.3 L257.3,1290.0 L260.1,1289.7 L262.8,1289.3 L265.6,1288.9 L268.4,1288.5 L271.1,1288.0 L273.9,1287.5 L276.7,1287.0 L279.5,1286.3 L282.2,1285.6 L285.0,1284.9 L287.8,1284.0 L290.6,1283.1 L293.4,1282.1 L296.1,1281.0 L298.9,1279.7 L301.7,1278.4 L304.4,1276.9 L307.2,1275.3 L310.0,1273.5 L312.8,1271.5 L315.6,1269.4 L318.3,1267.0 L321.1,1264.4 L323.9,1261.6 L326.6,1258.5 L329.4,1255.2 L332.2,1251.6 L335.0,1247.7 L337.8,1243.4 L340.5,1238.8 L343.3,1233.9 L346.1,1228.6 L348.9,1223.0 L351.6,1217.0 L354.4,1210.6 L357.2,1203.9 L359.9,1196.8 L362.7,1189.4 L365.5,1181.6 L368.3,1173.6 L371.1,1165.4 L373.8,1156.9 L376.6,1148.3 L379.4,1139.7 L382.1,1130.9 L384.9,1122.2 L387.7,1113.6 L390.5,1105.1 L393.2,1096.8 L396.0,1088.7 L398.8,1080.9 L401.6,1073.4 L404.4,1066.3 L407.1,1059.6 L409.9,1053.2 L412.7,1047.2 L415.4,1041.7 L418.2,1036.5 L421.0,1031.7 L423.8,1027.3 L426.6,1023.3 L429.3,1019.6 L432.1,1016.3 L434.9,1013.2 L437.6,1010.5 L440.4,1008.0 L443.2,1005.7 L446.0,1003.7 L448.8,1001.9 L451.5,1000.2 L454.3,998.8 L457.1,997.5 L459.9,996.3 L462.6,995.2 L465.4,994.3 L468.2,993.5 L470.9,992.7 L473.7,992.1 L476.5,991.5" stroke="#3d39a6" stroke-width="5.8" fill="none" stroke-linejoin="round" stroke-linecap="butt"/>
<text x="1.38" y="1468.10" font-size="40.8" fill="#111" textLength="28.74" lengthAdjust="spacingAndGlyphs" >C</text>
<text x="367.88" y="1485.60" font-size="33.8" fill="#111" textLength="241.27" lengthAdjust="spacingAndGlyphs" >Fast Inactivation</text>
<line x1="146.1" y1="1513.3" x2="146.1" y2="1846.4" stroke="#111" stroke-width="2.8" stroke-linecap="butt"/>
<line x1="132.1" y1="1845.0" x2="480.5" y2="1845.0" stroke="#111" stroke-width="2.8" stroke-linecap="butt"/>
<line x1="132.1" y1="1845.0" x2="146.1" y2="1845.0" stroke="#111" stroke-width="2.6" stroke-linecap="butt"/>
<text x="120.9" y="1852.9" font-size="25.5" text-anchor="end" fill="#111" >0</text>
<line x1="132.1" y1="1781.7" x2="146.1" y2="1781.7" stroke="#111" stroke-width="2.6" stroke-linecap="butt"/>
<text x="120.9" y="1789.6" font-size="25.5" text-anchor="end" fill="#111" >0.2</text>
<line x1="132.1" y1="1718.5" x2="146.1" y2="1718.5" stroke="#111" stroke-width="2.6" stroke-linecap="butt"/>
<text x="120.9" y="1726.4" font-size="25.5" text-anchor="end" fill="#111" >0.4</text>
<line x1="132.1" y1="1655.2" x2="146.1" y2="1655.2" stroke="#111" stroke-width="2.6" stroke-linecap="butt"/>
<text x="120.9" y="1663.1" font-size="25.5" text-anchor="end" fill="#111" >0.6</text>
<line x1="132.1" y1="1592.0" x2="146.1" y2="1592.0" stroke="#111" stroke-width="2.6" stroke-linecap="butt"/>
<text x="120.9" y="1599.9" font-size="25.5" text-anchor="end" fill="#111" >0.8</text>
<line x1="132.1" y1="1528.7" x2="146.1" y2="1528.7" stroke="#111" stroke-width="2.6" stroke-linecap="butt"/>
<text x="120.9" y="1536.6" font-size="25.5" text-anchor="end" fill="#111" >1.0</text>
<line x1="146.3" y1="1845.0" x2="146.3" y2="1859.5" stroke="#111" stroke-width="2.6" stroke-linecap="butt"/>
<text x="146.3" y="1889.3" font-size="25.5" text-anchor="middle" fill="#111" ><tspan fill="#3b1f10">−</tspan>80</text>
<line x1="212.8" y1="1845.0" x2="212.8" y2="1859.5" stroke="#111" stroke-width="2.6" stroke-linecap="butt"/>
<text x="212.8" y="1889.3" font-size="25.5" text-anchor="middle" fill="#111" ><tspan fill="#3b1f10">−</tspan>60</text>
<line x1="279.2" y1="1845.0" x2="279.2" y2="1859.5" stroke="#111" stroke-width="2.6" stroke-linecap="butt"/>
<text x="279.2" y="1889.3" font-size="25.5" text-anchor="middle" fill="#111" ><tspan fill="#3b1f10">−</tspan>40</text>
<line x1="345.6" y1="1845.0" x2="345.6" y2="1859.5" stroke="#111" stroke-width="2.6" stroke-linecap="butt"/>
<text x="345.6" y="1889.3" font-size="25.5" text-anchor="middle" fill="#111" ><tspan fill="#3b1f10">−</tspan>20</text>
<line x1="412.1" y1="1845.0" x2="412.1" y2="1859.5" stroke="#111" stroke-width="2.6" stroke-linecap="butt"/>
<text x="412.1" y="1889.3" font-size="25.5" text-anchor="middle" fill="#111" >0</text>
<line x1="478.6" y1="1845.0" x2="478.6" y2="1859.5" stroke="#111" stroke-width="2.6" stroke-linecap="butt"/>
<text x="478.6" y="1889.3" font-size="25.5" text-anchor="middle" fill="#111" >20</text>
<text x="261.15" y="1929.80" font-size="34.9" fill="#111" textLength="103.61" lengthAdjust="spacingAndGlyphs" >V (mV)</text>
<text transform="translate(58.9,1720.4) rotate(-90)" font-size="34" fill="#111">I / I<tspan font-size="20.5" dy="11.5">Max</tspan></text>
<rect x="186.3" y="1693.0" width="13.4" height="13.4" stroke="#111" stroke-width="2.6" fill="#fff"/>
<text x="216.81" y="1706.90" font-size="27.0" fill="#111" textLength="78.57" lengthAdjust="spacingAndGlyphs" >Before</text>
<circle cx="193.0" cy="1737.5" r="6.90" stroke="#111" stroke-width="2.6" fill="#fff"/>
<text x="217.31" y="1744.60" font-size="27.5" fill="#302ca0" textLength="54.09" lengthAdjust="spacingAndGlyphs" >THC</text>
<line x1="345.6" y1="1625.3" x2="345.6" y2="1655.4" stroke="#111" stroke-width="2.5" stroke-linecap="butt"/>
<line x1="337.8" y1="1625.3" x2="353.4" y2="1625.3" stroke="#111" stroke-width="2.5" stroke-linecap="butt"/>
<line x1="337.8" y1="1655.4" x2="353.4" y2="1655.4" stroke="#111" stroke-width="2.5" stroke-linecap="butt"/>
<line x1="312.4" y1="1596.7" x2="312.4" y2="1621.0" stroke="#111" stroke-width="2.5" stroke-linecap="butt"/>
<line x1="304.6" y1="1596.7" x2="320.2" y2="1596.7" stroke="#111" stroke-width="2.5" stroke-linecap="butt"/>
<line x1="304.6" y1="1621.0" x2="320.2" y2="1621.0" stroke="#111" stroke-width="2.5" stroke-linecap="butt"/>
<line x1="345.6" y1="1732.2" x2="345.6" y2="1755.7" stroke="#111" stroke-width="2.5" stroke-linecap="butt"/>
<line x1="337.8" y1="1732.2" x2="353.4" y2="1732.2" stroke="#111" stroke-width="2.5" stroke-linecap="butt"/>
<line x1="337.8" y1="1755.7" x2="353.4" y2="1755.7" stroke="#111" stroke-width="2.5" stroke-linecap="butt"/>
<rect x="140.2" y="1533.8" width="12.3" height="12.3" stroke="#111" stroke-width="2.6" fill="#fff"/>
<rect x="173.4" y="1533.8" width="12.3" height="12.3" stroke="#111" stroke-width="2.6" fill="#fff"/>
<rect x="206.6" y="1533.8" width="12.3" height="12.3" stroke="#111" stroke-width="2.6" fill="#fff"/>
<rect x="239.8" y="1534.3" width="12.3" height="12.3" stroke="#111" stroke-width="2.6" fill="#fff"/>
<rect x="273.1" y="1536.8" width="12.3" height="12.3" stroke="#111" stroke-width="2.6" fill="#fff"/>
<rect x="306.3" y="1551.8" width="12.3" height="12.3" stroke="#111" stroke-width="2.6" fill="#fff"/>
<rect x="339.5" y="1634.2" width="12.3" height="12.3" stroke="#111" stroke-width="2.6" fill="#fff"/>
<rect x="372.7" y="1792.1" width="12.3" height="12.3" stroke="#111" stroke-width="2.6" fill="#fff"/>
<rect x="405.9" y="1828.8" width="12.3" height="12.3" stroke="#111" stroke-width="2.6" fill="#fff"/>
<rect x="439.2" y="1837.4" width="12.3" height="12.3" stroke="#111" stroke-width="2.6" fill="#fff"/>
<rect x="472.4" y="1838.2" width="12.3" height="12.3" stroke="#111" stroke-width="2.6" fill="#fff"/>
<circle cx="146.3" cy="1540.5" r="6.30" stroke="#111" stroke-width="2.6" fill="#fff"/>
<circle cx="179.5" cy="1541.5" r="6.30" stroke="#111" stroke-width="2.6" fill="#fff"/>
<circle cx="212.8" cy="1540.5" r="6.30" stroke="#111" stroke-width="2.6" fill="#fff"/>
<circle cx="246.0" cy="1545.0" r="6.30" stroke="#111" stroke-width="2.6" fill="#fff"/>
<circle cx="279.2" cy="1556.5" r="6.30" stroke="#111" stroke-width="2.6" fill="#fff"/>
<circle cx="312.4" cy="1608.1" r="6.30" stroke="#111" stroke-width="2.6" fill="#fff"/>
<circle cx="345.6" cy="1743.5" r="6.30" stroke="#111" stroke-width="2.6" fill="#fff"/>
<circle cx="378.9" cy="1831.4" r="6.30" stroke="#111" stroke-width="2.6" fill="#fff"/>
<circle cx="412.1" cy="1846.2" r="6.30" stroke="#111" stroke-width="2.6" fill="#fff"/>
<circle cx="445.3" cy="1845.5" r="6.30" stroke="#111" stroke-width="2.6" fill="#fff"/>
<circle cx="478.6" cy="1845.0" r="6.30" stroke="#111" stroke-width="2.6" fill="#fff"/>
<path d="M146.3,1538.5 L148.4,1538.5 L150.5,1538.5 L152.5,1538.5 L154.6,1538.5 L156.7,1538.5 L158.8,1538.5 L160.8,1538.5 L162.9,1538.5 L165.0,1538.5 L167.1,1538.5 L169.2,1538.5 L171.2,1538.5 L173.3,1538.5 L175.4,1538.5 L177.5,1538.5 L179.5,1538.5 L181.6,1538.5 L183.7,1538.5 L185.8,1538.5 L187.9,1538.5 L189.9,1538.5 L192.0,1538.5 L194.1,1538.5 L196.2,1538.5 L198.2,1538.5 L200.3,1538.5 L202.4,1538.5 L204.5,1538.5 L206.5,1538.5 L208.6,1538.5 L210.7,1538.5 L212.8,1538.5 L214.9,1538.5 L216.9,1538.5 L219.0,1538.5 L221.1,1538.5 L223.2,1538.5 L225.2,1538.5 L227.3,1538.5 L229.4,1538.5 L231.5,1538.5 L233.6,1538.5 L235.6,1538.5 L237.7,1538.5 L239.8,1538.5 L241.9,1538.5 L243.9,1538.6 L246.0,1538.6 L248.1,1538.6 L250.2,1538.6 L252.3,1538.6 L254.3,1538.6 L256.4,1538.6 L258.5,1538.6 L260.6,1538.6 L262.6,1538.6 L264.7,1538.6 L266.8,1538.7 L268.9,1538.7 L271.0,1538.7 L273.0,1538.8 L275.1,1538.8 L277.2,1538.9 L279.3,1538.9 L281.3,1539.0 L283.4,1539.1 L285.5,1539.2 L287.6,1539.4 L289.6,1539.7 L291.7,1540.3 L293.8,1540.9 L295.9,1541.7 L298.0,1542.6 L300.0,1543.6 L302.1,1544.6 L304.2,1545.8 L306.3,1547.2 L308.3,1548.9 L310.4,1550.8 L312.5,1552.9 L314.6,1555.3 L316.7,1557.8 L318.7,1560.4 L320.8,1563.4 L322.9,1566.8 L325.0,1570.6 L327.0,1574.7 L329.1,1579.2 L331.2,1584.1 L333.3,1589.8 L335.4,1596.2 L337.4,1603.0 L339.5,1610.6 L341.6,1619.5 L343.7,1630.7 L345.7,1643.3 L347.8,1655.3 L349.9,1666.6 L352.0,1676.9 L354.1,1686.7 L356.1,1695.9 L358.2,1705.1 L360.3,1714.2 L362.4,1723.6 L364.4,1733.9 L366.5,1744.3 L368.6,1754.3 L370.7,1764.1 L372.7,1773.0 L374.8,1780.7 L376.9,1787.7 L379.0,1794.4 L381.1,1800.4 L383.1,1805.9 L385.2,1810.5 L387.3,1814.4 L389.4,1818.0 L391.4,1821.4 L393.5,1824.5 L395.6,1827.4 L397.7,1829.9 L399.8,1832.1 L401.8,1833.8 L403.9,1835.1 L406.0,1836.2 L408.1,1837.3 L410.1,1838.2 L412.2,1839.1 L414.3,1839.9 L416.4,1840.6 L418.5,1841.1 L420.5,1841.6 L422.6,1842.0 L424.7,1842.2 L426.8,1842.4 L428.8,1842.6 L430.9,1842.7 L433.0,1842.9 L435.1,1843.0 L437.2,1843.1 L439.2,1843.2 L441.3,1843.3 L443.4,1843.4 L445.5,1843.5 L447.5,1843.5 L449.6,1843.6 L451.7,1843.6 L453.8,1843.7 L455.8,1843.7 L457.9,1843.8 L460.0,1843.8 L462.1,1843.8 L464.2,1843.9 L466.2,1843.9 L468.3,1843.9 L470.4,1844.0 L472.5,1844.0 L474.5,1844.0 L476.6,1844.0 L478.7,1844.0" stroke="#111" stroke-width="5.8" fill="none" stroke-linejoin="round" stroke-linecap="round"/>
<path d="M146.3,1541.0 L148.1,1541.0 L149.9,1541.0 L151.7,1541.0 L153.5,1541.0 L155.3,1541.0 L157.1,1541.0 L158.8,1541.0 L160.6,1541.0 L162.4,1541.0 L164.2,1541.0 L166.0,1541.0 L167.8,1541.0 L169.6,1541.0 L171.4,1541.0 L173.2,1541.1 L175.0,1541.1 L176.8,1541.1 L178.6,1541.1 L180.4,1541.1 L182.2,1541.1 L183.9,1541.1 L185.7,1541.1 L187.5,1541.1 L189.3,1541.1 L191.1,1541.1 L192.9,1541.2 L194.7,1541.2 L196.5,1541.2 L198.3,1541.2 L200.1,1541.2 L201.9,1541.2 L203.7,1541.2 L205.5,1541.3 L207.2,1541.3 L209.0,1541.3 L210.8,1541.4 L212.6,1541.5 L214.4,1541.5 L216.2,1541.6 L218.0,1541.7 L219.8,1541.7 L221.6,1541.8 L223.4,1541.9 L225.2,1542.0 L227.0,1542.1 L228.8,1542.2 L230.5,1542.3 L232.3,1542.5 L234.1,1542.6 L235.9,1542.7 L237.7,1542.9 L239.5,1543.0 L241.3,1543.2 L243.1,1543.3 L244.9,1543.5 L246.7,1543.7 L248.5,1543.8 L250.3,1544.0 L252.1,1544.2 L253.9,1544.4 L255.6,1544.6 L257.4,1544.8 L259.2,1545.0 L261.0,1545.2 L262.8,1545.5 L264.6,1545.8 L266.4,1546.2 L268.2,1546.6 L270.0,1547.1 L271.8,1547.6 L273.6,1548.2 L275.4,1548.8 L277.2,1549.6 L278.9,1550.3 L280.7,1551.1 L282.5,1552.1 L284.3,1553.4 L286.1,1555.0 L287.9,1557.0 L289.7,1559.2 L291.5,1561.5 L293.3,1564.0 L295.1,1566.5 L296.9,1569.0 L298.7,1571.7 L300.5,1574.5 L302.2,1577.6 L304.0,1581.0 L305.8,1584.8 L307.6,1589.2 L309.4,1594.7 L311.2,1602.1 L313.0,1610.0 L314.8,1617.0 L316.6,1624.0 L318.4,1631.5 L320.2,1640.2 L322.0,1649.4 L323.8,1658.5 L325.6,1667.7 L327.3,1675.8 L329.1,1683.1 L330.9,1690.0 L332.7,1697.2 L334.5,1704.4 L336.3,1711.5 L338.1,1718.7 L339.9,1725.9 L341.7,1732.8 L343.5,1739.2 L345.3,1745.2 L347.1,1751.1 L348.9,1757.0 L350.6,1763.1 L352.4,1769.0 L354.2,1774.7 L356.0,1780.0 L357.8,1785.3 L359.6,1790.5 L361.4,1795.6 L363.2,1800.3 L365.0,1804.7 L366.8,1808.7 L368.6,1812.0 L370.4,1814.9 L372.2,1817.7 L373.9,1820.4 L375.7,1822.9 L377.5,1825.3 L379.3,1827.5 L381.1,1829.5 L382.9,1831.4 L384.7,1833.1 L386.5,1834.6 L388.3,1835.8 L390.1,1836.9 L391.9,1837.8 L393.7,1838.7 L395.5,1839.6 L397.2,1840.4 L399.0,1841.1 L400.8,1841.8 L402.6,1842.4 L404.4,1842.9 L406.2,1843.4 L408.0,1843.7 L409.8,1843.9 L411.6,1844.1 L413.4,1844.2 L415.2,1844.3 L417.0,1844.5 L418.8,1844.6 L420.6,1844.7 L422.3,1844.7 L424.1,1844.8 L425.9,1844.9 L427.7,1844.9 L429.5,1845.0 L431.3,1845.0 L433.1,1845.0" stroke="#3d39a6" stroke-width="5.8" fill="none" stroke-linejoin="round" stroke-linecap="round"/>
<text x="1.62" y="2028.70" font-size="41.2" fill="#111" textLength="28.90" lengthAdjust="spacingAndGlyphs" >D</text>
<text x="364.50" y="2046.50" font-size="34.9" fill="#111" textLength="247.95" lengthAdjust="spacingAndGlyphs" >Slow Inactivation</text>
<line x1="146.1" y1="2073.3" x2="146.1" y2="2404.9" stroke="#111" stroke-width="2.8" stroke-linecap="butt"/>
<line x1="132.1" y1="2403.5" x2="522.0" y2="2403.5" stroke="#111" stroke-width="2.8" stroke-linecap="butt"/>
<line x1="132.1" y1="2403.5" x2="146.1" y2="2403.5" stroke="#111" stroke-width="2.6" stroke-linecap="butt"/>
<text x="120.9" y="2411.4" font-size="25.5" text-anchor="end" fill="#111" >0</text>
<line x1="132.1" y1="2340.5" x2="146.1" y2="2340.5" stroke="#111" stroke-width="2.6" stroke-linecap="butt"/>
<text x="120.9" y="2348.4" font-size="25.5" text-anchor="end" fill="#111" >0.2</text>
<line x1="132.1" y1="2277.6" x2="146.1" y2="2277.6" stroke="#111" stroke-width="2.6" stroke-linecap="butt"/>
<text x="120.9" y="2285.5" font-size="25.5" text-anchor="end" fill="#111" >0.4</text>
<line x1="132.1" y1="2214.6" x2="146.1" y2="2214.6" stroke="#111" stroke-width="2.6" stroke-linecap="butt"/>
<text x="120.9" y="2222.5" font-size="25.5" text-anchor="end" fill="#111" >0.6</text>
<line x1="132.1" y1="2151.7" x2="146.1" y2="2151.7" stroke="#111" stroke-width="2.6" stroke-linecap="butt"/>
<text x="120.9" y="2159.6" font-size="25.5" text-anchor="end" fill="#111" >0.8</text>
<line x1="132.1" y1="2088.7" x2="146.1" y2="2088.7" stroke="#111" stroke-width="2.6" stroke-linecap="butt"/>
<text x="120.9" y="2096.6" font-size="25.5" text-anchor="end" fill="#111" >1.0</text>
<line x1="146.2" y1="2403.5" x2="146.2" y2="2418.0" stroke="#111" stroke-width="2.6" stroke-linecap="butt"/>
<text x="137.1" y="2447.8" font-size="25.5" text-anchor="middle" fill="#111" ><tspan fill="#3b1f10">−</tspan>120</text>
<line x1="199.6" y1="2403.5" x2="199.6" y2="2418.0" stroke="#111" stroke-width="2.6" stroke-linecap="butt"/>
<text x="199.6" y="2447.8" font-size="25.5" text-anchor="middle" fill="#111" ><tspan fill="#3b1f10">−</tspan>100</text>
<line x1="253.0" y1="2403.5" x2="253.0" y2="2418.0" stroke="#111" stroke-width="2.6" stroke-linecap="butt"/>
<text x="253.0" y="2447.8" font-size="25.5" text-anchor="middle" fill="#111" ><tspan fill="#3b1f10">−</tspan>80</text>
<line x1="306.4" y1="2403.5" x2="306.4" y2="2418.0" stroke="#111" stroke-width="2.6" stroke-linecap="butt"/>
<text x="306.4" y="2447.8" font-size="25.5" text-anchor="middle" fill="#111" ><tspan fill="#3b1f10">−</tspan>60</text>
<line x1="359.9" y1="2403.5" x2="359.9" y2="2418.0" stroke="#111" stroke-width="2.6" stroke-linecap="butt"/>
<text x="359.9" y="2447.8" font-size="25.5" text-anchor="middle" fill="#111" ><tspan fill="#3b1f10">−</tspan>40</text>
<line x1="413.3" y1="2403.5" x2="413.3" y2="2418.0" stroke="#111" stroke-width="2.6" stroke-linecap="butt"/>
<text x="413.3" y="2447.8" font-size="25.5" text-anchor="middle" fill="#111" ><tspan fill="#3b1f10">−</tspan>20</text>
<line x1="466.7" y1="2403.5" x2="466.7" y2="2418.0" stroke="#111" stroke-width="2.6" stroke-linecap="butt"/>
<text x="466.7" y="2447.8" font-size="25.5" text-anchor="middle" fill="#111" >0</text>
<line x1="520.1" y1="2403.5" x2="520.1" y2="2418.0" stroke="#111" stroke-width="2.6" stroke-linecap="butt"/>
<text x="520.1" y="2447.8" font-size="25.5" text-anchor="middle" fill="#111" >20</text>
<text x="281.75" y="2490.00" font-size="34.9" fill="#111" textLength="103.51" lengthAdjust="spacingAndGlyphs" >V (mV)</text>
<text transform="translate(58.9,2280.8) rotate(-90)" font-size="34" fill="#111">I / I<tspan font-size="20.5" dy="11.5">Max</tspan></text>
<rect x="186.2" y="2296.4" width="13.4" height="13.4" stroke="#111" stroke-width="2.6" fill="#fff"/>
<text x="216.66" y="2310.30" font-size="27.0" fill="#111" textLength="78.57" lengthAdjust="spacingAndGlyphs" >Before</text>
<circle cx="192.8" cy="2340.5" r="6.90" stroke="#111" stroke-width="2.6" fill="#fff"/>
<text x="217.16" y="2347.60" font-size="27.5" fill="#302ca0" textLength="54.09" lengthAdjust="spacingAndGlyphs" >THC</text>
<line x1="386.6" y1="2152.4" x2="386.6" y2="2178.9" stroke="#111" stroke-width="2.5" stroke-linecap="butt"/>
<line x1="378.8" y1="2152.4" x2="394.4" y2="2152.4" stroke="#111" stroke-width="2.5" stroke-linecap="butt"/>
<line x1="378.8" y1="2178.9" x2="394.4" y2="2178.9" stroke="#111" stroke-width="2.5" stroke-linecap="butt"/>
<line x1="413.3" y1="2317.6" x2="413.3" y2="2344.2" stroke="#111" stroke-width="2.5" stroke-linecap="butt"/>
<line x1="405.5" y1="2317.6" x2="421.1" y2="2317.6" stroke="#111" stroke-width="2.5" stroke-linecap="butt"/>
<line x1="405.5" y1="2344.2" x2="421.1" y2="2344.2" stroke="#111" stroke-width="2.5" stroke-linecap="butt"/>
<line x1="333.1" y1="2110.0" x2="333.1" y2="2127.3" stroke="#111" stroke-width="2.5" stroke-linecap="butt"/>
<line x1="325.3" y1="2110.0" x2="340.9" y2="2110.0" stroke="#111" stroke-width="2.5" stroke-linecap="butt"/>
<line x1="325.3" y1="2127.3" x2="340.9" y2="2127.3" stroke="#111" stroke-width="2.5" stroke-linecap="butt"/>
<line x1="359.9" y1="2164.5" x2="359.9" y2="2201.5" stroke="#111" stroke-width="2.5" stroke-linecap="butt"/>
<line x1="352.1" y1="2164.5" x2="367.7" y2="2164.5" stroke="#111" stroke-width="2.5" stroke-linecap="butt"/>
<line x1="352.1" y1="2201.5" x2="367.7" y2="2201.5" stroke="#111" stroke-width="2.5" stroke-linecap="butt"/>
<line x1="386.6" y1="2320.6" x2="386.6" y2="2347.2" stroke="#111" stroke-width="2.5" stroke-linecap="butt"/>
<line x1="378.8" y1="2320.6" x2="394.4" y2="2320.6" stroke="#111" stroke-width="2.5" stroke-linecap="butt"/>
<line x1="378.8" y1="2347.2" x2="394.4" y2="2347.2" stroke="#111" stroke-width="2.5" stroke-linecap="butt"/>
<rect x="140.0" y="2097.8" width="12.3" height="12.3" stroke="#111" stroke-width="2.6" fill="#fff"/>
<rect x="166.8" y="2099.8" width="12.3" height="12.3" stroke="#111" stroke-width="2.6" fill="#fff"/>
<rect x="193.5" y="2102.8" width="12.3" height="12.3" stroke="#111" stroke-width="2.6" fill="#fff"/>
<rect x="220.2" y="2106.7" width="12.3" height="12.3" stroke="#111" stroke-width="2.6" fill="#fff"/>
<rect x="246.9" y="2106.7" width="12.3" height="12.3" stroke="#111" stroke-width="2.6" fill="#fff"/>
<rect x="273.6" y="2105.0" width="12.3" height="12.3" stroke="#111" stroke-width="2.6" fill="#fff"/>
<rect x="300.3" y="2099.8" width="12.3" height="12.3" stroke="#111" stroke-width="2.6" fill="#fff"/>
<rect x="327.0" y="2099.2" width="12.3" height="12.3" stroke="#111" stroke-width="2.6" fill="#fff"/>
<rect x="353.7" y="2103.9" width="12.3" height="12.3" stroke="#111" stroke-width="2.6" fill="#fff"/>
<rect x="380.4" y="2159.2" width="12.3" height="12.3" stroke="#111" stroke-width="2.6" fill="#fff"/>
<rect x="407.1" y="2324.8" width="12.3" height="12.3" stroke="#111" stroke-width="2.6" fill="#fff"/>
<rect x="433.8" y="2395.3" width="12.3" height="12.3" stroke="#111" stroke-width="2.6" fill="#fff"/>
<rect x="460.5" y="2395.3" width="12.3" height="12.3" stroke="#111" stroke-width="2.6" fill="#fff"/>
<rect x="487.2" y="2395.3" width="12.3" height="12.3" stroke="#111" stroke-width="2.6" fill="#fff"/>
<rect x="513.9" y="2396.3" width="12.3" height="12.3" stroke="#111" stroke-width="2.6" fill="#fff"/>
<circle cx="146.2" cy="2093.8" r="6.30" stroke="#111" stroke-width="2.6" fill="#fff"/>
<circle cx="172.9" cy="2093.5" r="6.30" stroke="#111" stroke-width="2.6" fill="#fff"/>
<circle cx="199.6" cy="2092.8" r="6.30" stroke="#111" stroke-width="2.6" fill="#fff"/>
<circle cx="226.3" cy="2092.8" r="6.30" stroke="#111" stroke-width="2.6" fill="#fff"/>
<circle cx="253.0" cy="2092.0" r="6.30" stroke="#111" stroke-width="2.6" fill="#fff"/>
<circle cx="279.7" cy="2093.0" r="6.30" stroke="#111" stroke-width="2.6" fill="#fff"/>
<circle cx="306.4" cy="2094.5" r="6.30" stroke="#111" stroke-width="2.6" fill="#fff"/>
<circle cx="333.1" cy="2118.0" r="6.30" stroke="#111" stroke-width="2.6" fill="#fff"/>
<circle cx="359.9" cy="2182.4" r="6.30" stroke="#111" stroke-width="2.6" fill="#fff"/>
<circle cx="386.6" cy="2333.5" r="6.30" stroke="#111" stroke-width="2.6" fill="#fff"/>
<circle cx="413.3" cy="2401.5" r="6.30" stroke="#111" stroke-width="2.6" fill="#fff"/>
<circle cx="440.0" cy="2403.0" r="6.30" stroke="#111" stroke-width="2.6" fill="#fff"/>
<circle cx="466.7" cy="2396.4" r="6.30" stroke="#111" stroke-width="2.6" fill="#fff"/>
<circle cx="493.4" cy="2401.0" r="6.30" stroke="#111" stroke-width="2.6" fill="#fff"/>
<circle cx="520.1" cy="2398.0" r="6.30" stroke="#111" stroke-width="2.6" fill="#fff"/>
<path d="M146.2,2104.6 L148.5,2104.6 L150.9,2104.6 L153.2,2104.6 L155.5,2104.6 L157.9,2104.6 L160.2,2104.6 L162.6,2104.6 L164.9,2104.6 L167.2,2104.6 L169.6,2104.6 L171.9,2104.6 L174.2,2104.6 L176.6,2104.6 L178.9,2104.6 L181.3,2104.6 L183.6,2104.6 L185.9,2104.6 L188.3,2104.6 L190.6,2104.6 L192.9,2104.6 L195.3,2104.6 L197.6,2104.6 L199.9,2104.6 L202.3,2104.6 L204.6,2104.6 L207.0,2104.6 L209.3,2104.6 L211.6,2104.6 L214.0,2104.6 L216.3,2104.6 L218.6,2104.6 L221.0,2104.7 L223.3,2104.7 L225.7,2104.7 L228.0,2104.7 L230.3,2104.7 L232.7,2104.7 L235.0,2104.7 L237.3,2104.7 L239.7,2104.7 L242.0,2104.7 L244.3,2104.7 L246.7,2104.7 L249.0,2104.7 L251.4,2104.7 L253.7,2104.7 L256.0,2104.7 L258.4,2104.7 L260.7,2104.8 L263.0,2104.8 L265.4,2104.8 L267.7,2104.8 L270.1,2104.9 L272.4,2104.9 L274.7,2105.0 L277.1,2105.0 L279.4,2105.0 L281.7,2105.1 L284.1,2105.1 L286.4,2105.2 L288.7,2105.2 L291.1,2105.3 L293.4,2105.3 L295.8,2105.4 L298.1,2105.5 L300.4,2105.5 L302.8,2105.6 L305.1,2105.6 L307.4,2105.7 L309.8,2105.8 L312.1,2105.9 L314.5,2106.0 L316.8,2106.1 L319.1,2106.2 L321.5,2106.3 L323.8,2106.4 L326.1,2106.6 L328.5,2106.7 L330.8,2106.9 L333.1,2107.0 L335.5,2107.2 L337.8,2107.4 L340.2,2107.6 L342.5,2107.8 L344.8,2108.1 L347.2,2108.5 L349.5,2108.9 L351.8,2109.5 L354.2,2110.2 L356.5,2110.9 L358.9,2111.8 L361.2,2112.8 L363.5,2114.1 L365.9,2116.1 L368.2,2118.5 L370.5,2121.5 L372.9,2124.8 L375.2,2128.4 L377.6,2132.6 L379.9,2137.9 L382.2,2145.1 L384.6,2158.7 L386.9,2174.6 L389.2,2184.3 L391.6,2195.6 L393.9,2209.6 L396.2,2224.8 L398.6,2240.5 L400.9,2255.5 L403.3,2268.6 L405.6,2281.8 L407.9,2295.2 L410.3,2309.0 L412.6,2322.5 L414.9,2335.5 L417.3,2347.8 L419.6,2356.9 L422.0,2365.2 L424.3,2372.6 L426.6,2378.8 L429.0,2383.5 L431.3,2386.5 L433.6,2389.1 L436.0,2391.3 L438.3,2393.3 L440.6,2394.9 L443.0,2396.2 L445.3,2397.1 L447.7,2397.7 L450.0,2398.2 L452.3,2398.7 L454.7,2399.1 L457.0,2399.5 L459.3,2399.8 L461.7,2400.1 L464.0,2400.4 L466.4,2400.6 L468.7,2400.7 L471.0,2400.9 L473.4,2401.0 L475.7,2401.1 L478.0,2401.2 L480.4,2401.3 L482.7,2401.4 L485.0,2401.5 L487.4,2401.6 L489.7,2401.6 L492.1,2401.7 L494.4,2401.8 L496.7,2401.9 L499.1,2401.9 L501.4,2402.0 L503.7,2402.0 L506.1,2402.1 L508.4,2402.1 L510.8,2402.1 L513.1,2402.2 L515.4,2402.2 L517.8,2402.2 L520.1,2402.2" stroke="#111" stroke-width="5.8" fill="none" stroke-linejoin="round" stroke-linecap="round"/>
<path d="M146.2,2096.8 L148.5,2096.8 L150.9,2096.8 L153.2,2096.8 L155.6,2096.8 L157.9,2096.8 L160.3,2096.8 L162.6,2096.8 L164.9,2096.8 L167.3,2096.8 L169.6,2096.8 L172.0,2096.8 L174.3,2096.8 L176.7,2096.8 L179.0,2096.8 L181.4,2096.8 L183.7,2096.8 L186.0,2096.8 L188.4,2096.8 L190.7,2096.8 L193.1,2096.8 L195.4,2096.8 L197.8,2096.8 L200.1,2096.8 L202.4,2096.8 L204.8,2096.8 L207.1,2096.8 L209.5,2096.8 L211.8,2096.8 L214.2,2096.8 L216.5,2096.8 L218.9,2096.8 L221.2,2096.9 L223.5,2096.9 L225.9,2096.9 L228.2,2096.9 L230.6,2096.9 L232.9,2096.9 L235.3,2096.9 L237.6,2096.9 L239.9,2096.9 L242.3,2096.9 L244.6,2096.9 L247.0,2096.9 L249.3,2096.9 L251.7,2096.9 L254.0,2096.9 L256.4,2096.9 L258.7,2096.9 L261.0,2096.9 L263.4,2096.9 L265.7,2097.0 L268.1,2097.0 L270.4,2097.0 L272.8,2097.0 L275.1,2097.0 L277.5,2097.1 L279.8,2097.1 L282.1,2097.1 L284.5,2097.1 L286.8,2097.2 L289.2,2097.2 L291.5,2097.2 L293.9,2097.3 L296.2,2097.3 L298.5,2097.4 L300.9,2097.4 L303.2,2097.6 L305.6,2097.8 L307.9,2098.2 L310.3,2098.6 L312.6,2099.1 L315.0,2099.6 L317.3,2100.3 L319.6,2100.9 L322.0,2101.7 L324.3,2102.6 L326.7,2103.9 L329.0,2105.5 L331.4,2107.3 L333.7,2109.4 L336.0,2111.8 L338.4,2114.8 L340.7,2118.7 L343.1,2123.5 L345.4,2129.0 L347.8,2136.1 L350.1,2145.3 L352.5,2154.4 L354.8,2163.6 L357.1,2173.9 L359.5,2185.7 L361.8,2197.4 L364.2,2209.1 L366.5,2222.5 L368.9,2236.2 L371.2,2249.6 L373.5,2263.0 L375.9,2275.9 L378.2,2287.5 L380.6,2299.2 L382.9,2310.9 L385.3,2322.7 L387.6,2334.2 L390.0,2345.2 L392.3,2353.5 L394.6,2360.1 L397.0,2365.8 L399.3,2370.7 L401.7,2375.1 L404.0,2379.2 L406.4,2383.0 L408.7,2386.2 L411.0,2388.7 L413.4,2390.7 L415.7,2392.5 L418.1,2394.2 L420.4,2395.8 L422.8,2397.2 L425.1,2398.4 L427.5,2399.3 L429.8,2400.0 L432.1,2400.5 L434.5,2400.8 L436.8,2401.1 L439.2,2401.4 L441.5,2401.6 L443.9,2401.8 L446.2,2402.0 L448.5,2402.2 L450.9,2402.3 L453.2,2402.4 L455.6,2402.5 L457.9,2402.6 L460.3,2402.6 L462.6,2402.6 L465.0,2402.7 L467.3,2402.7 L469.6,2402.7 L472.0,2402.7 L474.3,2402.8 L476.7,2402.8 L479.0,2402.8 L481.4,2402.8 L483.7,2402.9 L486.0,2402.9 L488.4,2402.9 L490.7,2402.9 L493.1,2402.9 L495.4,2402.9 L497.8,2402.9 L500.1,2403.0 L502.5,2403.0 L504.8,2403.0 L507.1,2403.0 L509.5,2403.0 L511.8,2403.0 L514.2,2403.0 L516.5,2403.0 L518.9,2403.0 L521.2,2403.0" stroke="#3d39a6" stroke-width="5.8" fill="none" stroke-linejoin="round" stroke-linecap="round"/>
<line x1="682.6" y1="971.8" x2="682.6" y2="1295.5" stroke="#111" stroke-width="3.3" stroke-linecap="butt"/>
<line x1="668.4" y1="973.4" x2="682.6" y2="973.4" stroke="#111" stroke-width="3.3" stroke-linecap="butt"/>
<text x="660.5" y="981.3" font-size="25.5" text-anchor="end" fill="#111" >10</text>
<line x1="668.4" y1="1053.5" x2="682.6" y2="1053.5" stroke="#111" stroke-width="3.3" stroke-linecap="butt"/>
<text x="660.5" y="1061.4" font-size="25.5" text-anchor="end" fill="#111" >0</text>
<line x1="668.4" y1="1133.7" x2="682.6" y2="1133.7" stroke="#111" stroke-width="3.3" stroke-linecap="butt"/>
<text x="660.5" y="1141.6" font-size="25.5" text-anchor="end" fill="#111" ><tspan fill="#3b1f10">−</tspan>10</text>
<line x1="668.4" y1="1213.8" x2="682.6" y2="1213.8" stroke="#111" stroke-width="3.3" stroke-linecap="butt"/>
<text x="660.5" y="1221.7" font-size="25.5" text-anchor="end" fill="#111" ><tspan fill="#3b1f10">−</tspan>20</text>
<line x1="668.4" y1="1293.9" x2="682.6" y2="1293.9" stroke="#111" stroke-width="3.3" stroke-linecap="butt"/>
<text x="660.5" y="1301.8" font-size="25.5" text-anchor="end" fill="#111" ><tspan fill="#3b1f10">−</tspan>30</text>
<line x1="695.5" y1="1293.9" x2="883.3" y2="1293.9" stroke="#111" stroke-width="3.3" stroke-linecap="butt"/>
<text transform="translate(591.2,1202.3) rotate(-90)" font-size="34.5" fill="#111">V<tspan font-size="20.5" dy="11">0.5</tspan><tspan dy="-11"> (mV)</tspan></text>
<text transform="translate(776.5,1316.3000000000002) rotate(-45)" font-size="26.5" text-anchor="end" fill="#111">Before</text>
<text transform="translate(859.5,1316.3000000000002) rotate(-45)" font-size="26.5" text-anchor="end" fill="#302ca0">THC</text>
<line x1="743.7" y1="1095.5" x2="743.7" y2="1141.2" stroke="#111" stroke-width="3.1" stroke-linecap="butt"/>
<line x1="727.1" y1="1095.5" x2="760.3" y2="1095.5" stroke="#111" stroke-width="3.1" stroke-linecap="butt"/>
<line x1="743.7" y1="1228.2" x2="743.7" y2="1240.0" stroke="#111" stroke-width="3.1" stroke-linecap="butt"/>
<line x1="727.1" y1="1240.0" x2="760.3" y2="1240.0" stroke="#111" stroke-width="3.1" stroke-linecap="butt"/>
<rect x="715.2" y="1141.2" width="57.0" height="87.0" stroke="#111" stroke-width="3.1" fill="none"/>
<line x1="715.2" y1="1188.6" x2="772.2" y2="1188.6" stroke="#111" stroke-width="3.1" stroke-linecap="butt"/>
<rect x="737.2" y="1089.4" width="12.2" height="12.2" stroke="#111" stroke-width="2.6" fill="none"/>
<rect x="737.2" y="1123.5" width="12.2" height="12.2" stroke="#111" stroke-width="2.6" fill="none"/>
<rect x="737.2" y="1160.4" width="12.2" height="12.2" stroke="#111" stroke-width="2.6" fill="none"/>
<rect x="727.6" y="1177.9" width="12.2" height="12.2" stroke="#111" stroke-width="2.6" fill="none"/>
<rect x="747.0" y="1186.2" width="12.2" height="12.2" stroke="#111" stroke-width="2.6" fill="none"/>
<rect x="737.2" y="1206.4" width="12.2" height="12.2" stroke="#111" stroke-width="2.6" fill="none"/>
<rect x="747.0" y="1230.4" width="12.2" height="12.2" stroke="#111" stroke-width="2.6" fill="none"/>
<rect x="727.6" y="1236.8" width="12.2" height="12.2" stroke="#111" stroke-width="2.6" fill="none"/>
<circle cx="835.3" cy="1006.2" r="6.30" stroke="#111" stroke-width="2.6" fill="none"/>
<circle cx="835.3" cy="1031.1" r="6.30" stroke="#111" stroke-width="2.6" fill="none"/>
<circle cx="835.3" cy="1044.0" r="6.30" stroke="#111" stroke-width="2.6" fill="none"/>
<circle cx="835.3" cy="1062.4" r="6.30" stroke="#111" stroke-width="2.6" fill="none"/>
<circle cx="835.3" cy="1076.8" r="6.30" stroke="#111" stroke-width="2.6" fill="none"/>
<circle cx="835.3" cy="1157.3" r="6.30" stroke="#111" stroke-width="2.6" fill="none"/>
<circle cx="825.3" cy="1180.3" r="6.30" stroke="#111" stroke-width="2.6" fill="none"/>
<circle cx="844.6" cy="1178.1" r="6.30" stroke="#111" stroke-width="2.6" fill="none"/>
<line x1="835.2" y1="1006.7" x2="835.2" y2="1036.6" stroke="#3d39a6" stroke-width="3.1" stroke-linecap="butt"/>
<line x1="818.6" y1="1006.7" x2="851.9" y2="1006.7" stroke="#3d39a6" stroke-width="3.1" stroke-linecap="butt"/>
<line x1="835.2" y1="1169.8" x2="835.2" y2="1180.3" stroke="#3d39a6" stroke-width="3.1" stroke-linecap="butt"/>
<line x1="818.6" y1="1180.3" x2="851.9" y2="1180.3" stroke="#3d39a6" stroke-width="3.1" stroke-linecap="butt"/>
<rect x="806.9" y="1036.6" width="56.7" height="133.2" stroke="#3d39a6" stroke-width="3.1" fill="none"/>
<line x1="806.9" y1="1069.4" x2="863.6" y2="1069.4" stroke="#3d39a6" stroke-width="3.1" stroke-linecap="butt"/>
<text x="820.39" y="986.50" font-size="35" fill="#111" textLength="29.61" lengthAdjust="spacingAndGlyphs" >**</text>
<line x1="682.6" y1="1523.1" x2="682.6" y2="1847.0" stroke="#111" stroke-width="3.3" stroke-linecap="butt"/>
<line x1="668.4" y1="1524.7" x2="682.6" y2="1524.7" stroke="#111" stroke-width="3.3" stroke-linecap="butt"/>
<text x="660.5" y="1532.6" font-size="25.5" text-anchor="end" fill="#111" ><tspan fill="#3b1f10">−</tspan>10</text>
<line x1="668.4" y1="1604.9" x2="682.6" y2="1604.9" stroke="#111" stroke-width="3.3" stroke-linecap="butt"/>
<text x="660.5" y="1612.8" font-size="25.5" text-anchor="end" fill="#111" ><tspan fill="#3b1f10">−</tspan>15</text>
<line x1="668.4" y1="1685.0" x2="682.6" y2="1685.0" stroke="#111" stroke-width="3.3" stroke-linecap="butt"/>
<text x="660.5" y="1693.0" font-size="25.5" text-anchor="end" fill="#111" ><tspan fill="#3b1f10">−</tspan>20</text>
<line x1="668.4" y1="1765.2" x2="682.6" y2="1765.2" stroke="#111" stroke-width="3.3" stroke-linecap="butt"/>
<text x="660.5" y="1773.1" font-size="25.5" text-anchor="end" fill="#111" ><tspan fill="#3b1f10">−</tspan>25</text>
<line x1="668.4" y1="1845.4" x2="682.6" y2="1845.4" stroke="#111" stroke-width="3.3" stroke-linecap="butt"/>
<text x="660.5" y="1853.3" font-size="25.5" text-anchor="end" fill="#111" ><tspan fill="#3b1f10">−</tspan>30</text>
<line x1="695.5" y1="1845.4" x2="883.3" y2="1845.4" stroke="#111" stroke-width="3.3" stroke-linecap="butt"/>
<text transform="translate(591.2,1757.4) rotate(-90)" font-size="34.5" fill="#111">V<tspan font-size="20.5" dy="11">0.5</tspan><tspan dy="-11"> (mV)</tspan></text>
<text transform="translate(776.5,1867.8000000000002) rotate(-45)" font-size="26.5" text-anchor="end" fill="#111">Before</text>
<text transform="translate(859.5,1867.8000000000002) rotate(-45)" font-size="26.5" text-anchor="end" fill="#302ca0">THC</text>
<line x1="743.7" y1="1599.0" x2="743.7" y2="1607.3" stroke="#111" stroke-width="3.1" stroke-linecap="butt"/>
<line x1="727.1" y1="1599.0" x2="760.3" y2="1599.0" stroke="#111" stroke-width="3.1" stroke-linecap="butt"/>
<line x1="743.7" y1="1669.5" x2="743.7" y2="1685.0" stroke="#111" stroke-width="3.1" stroke-linecap="butt"/>
<line x1="727.1" y1="1685.0" x2="760.3" y2="1685.0" stroke="#111" stroke-width="3.1" stroke-linecap="butt"/>
<rect x="715.2" y="1607.3" width="57.0" height="62.2" stroke="#111" stroke-width="3.1" fill="none"/>
<line x1="715.2" y1="1643.3" x2="772.2" y2="1643.3" stroke="#111" stroke-width="3.1" stroke-linecap="butt"/>
<rect x="727.6" y="1593.0" width="12.2" height="12.2" stroke="#111" stroke-width="2.6" fill="none"/>
<rect x="746.8" y="1598.3" width="12.2" height="12.2" stroke="#111" stroke-width="2.6" fill="none"/>
<rect x="737.4" y="1608.5" width="12.2" height="12.2" stroke="#111" stroke-width="2.6" fill="none"/>
<rect x="737.4" y="1637.2" width="12.2" height="12.2" stroke="#111" stroke-width="2.6" fill="none"/>
<rect x="727.6" y="1660.9" width="12.2" height="12.2" stroke="#111" stroke-width="2.6" fill="none"/>
<rect x="746.8" y="1665.0" width="12.2" height="12.2" stroke="#111" stroke-width="2.6" fill="none"/>
<rect x="737.4" y="1678.9" width="12.2" height="12.2" stroke="#111" stroke-width="2.6" fill="none"/>
<circle cx="835.4" cy="1696.5" r="6.30" stroke="#111" stroke-width="2.6" fill="none"/>
<circle cx="816.4" cy="1738.3" r="6.30" stroke="#111" stroke-width="2.6" fill="none"/>
<circle cx="835.4" cy="1730.1" r="6.30" stroke="#111" stroke-width="2.6" fill="none"/>
<circle cx="854.4" cy="1727.2" r="6.30" stroke="#111" stroke-width="2.6" fill="none"/>
<circle cx="855.3" cy="1743.6" r="6.30" stroke="#111" stroke-width="2.6" fill="none"/>
<circle cx="835.4" cy="1748.9" r="6.30" stroke="#111" stroke-width="2.6" fill="none"/>
<circle cx="835.4" cy="1781.3" r="6.30" stroke="#111" stroke-width="2.6" fill="none"/>
<line x1="835.2" y1="1698.6" x2="835.2" y2="1730.1" stroke="#3d39a6" stroke-width="3.1" stroke-linecap="butt"/>
<line x1="818.6" y1="1698.6" x2="851.9" y2="1698.6" stroke="#3d39a6" stroke-width="3.1" stroke-linecap="butt"/>
<line x1="835.2" y1="1746.5" x2="835.2" y2="1781.3" stroke="#3d39a6" stroke-width="3.1" stroke-linecap="butt"/>
<line x1="818.6" y1="1781.3" x2="851.9" y2="1781.3" stroke="#3d39a6" stroke-width="3.1" stroke-linecap="butt"/>
<rect x="806.9" y="1730.1" width="56.7" height="16.4" stroke="#3d39a6" stroke-width="3.1" fill="none"/>
<line x1="806.9" y1="1739.5" x2="863.6" y2="1739.5" stroke="#3d39a6" stroke-width="3.1" stroke-linecap="butt"/>
<text x="812.67" y="1682.10" font-size="35" fill="#111" textLength="45.44" lengthAdjust="spacingAndGlyphs" >***</text>
<line x1="682.6" y1="2083.6" x2="682.6" y2="2407.2" stroke="#111" stroke-width="3.3" stroke-linecap="butt"/>
<line x1="668.4" y1="2085.2" x2="682.6" y2="2085.2" stroke="#111" stroke-width="3.3" stroke-linecap="butt"/>
<text x="660.5" y="2093.1" font-size="25.5" text-anchor="end" fill="#111" ><tspan fill="#3b1f10">−</tspan>10</text>
<line x1="668.4" y1="2165.3" x2="682.6" y2="2165.3" stroke="#111" stroke-width="3.3" stroke-linecap="butt"/>
<text x="660.5" y="2173.2" font-size="25.5" text-anchor="end" fill="#111" ><tspan fill="#3b1f10">−</tspan>20</text>
<line x1="668.4" y1="2245.4" x2="682.6" y2="2245.4" stroke="#111" stroke-width="3.3" stroke-linecap="butt"/>
<text x="660.5" y="2253.3" font-size="25.5" text-anchor="end" fill="#111" ><tspan fill="#3b1f10">−</tspan>30</text>
<line x1="668.4" y1="2325.5" x2="682.6" y2="2325.5" stroke="#111" stroke-width="3.3" stroke-linecap="butt"/>
<text x="660.5" y="2333.4" font-size="25.5" text-anchor="end" fill="#111" ><tspan fill="#3b1f10">−</tspan>40</text>
<line x1="668.4" y1="2405.6" x2="682.6" y2="2405.6" stroke="#111" stroke-width="3.3" stroke-linecap="butt"/>
<text x="660.5" y="2413.5" font-size="25.5" text-anchor="end" fill="#111" ><tspan fill="#3b1f10">−</tspan>50</text>
<line x1="695.5" y1="2405.6" x2="883.3" y2="2405.6" stroke="#111" stroke-width="3.3" stroke-linecap="butt"/>
<text transform="translate(591.2,2312.1) rotate(-90)" font-size="34.5" fill="#111">V<tspan font-size="20.5" dy="11">0.5</tspan><tspan dy="-11"> (mV)</tspan></text>
<text transform="translate(776.5,2428.0) rotate(-45)" font-size="26.5" text-anchor="end" fill="#111">Before</text>
<text transform="translate(859.5,2428.0) rotate(-45)" font-size="26.5" text-anchor="end" fill="#302ca0">THC</text>
<rect x="714.7" y="2183.7" width="57.5" height="36.3" stroke="#111" stroke-width="3.1" fill="none"/>
<line x1="714.7" y1="2200.7" x2="772.2" y2="2200.7" stroke="#111" stroke-width="3.1" stroke-linecap="butt"/>
<rect x="727.6" y="2176.7" width="12.2" height="12.2" stroke="#111" stroke-width="2.6" fill="none"/>
<rect x="747.0" y="2169.7" width="12.2" height="12.2" stroke="#111" stroke-width="2.6" fill="none"/>
<rect x="747.0" y="2190.9" width="12.2" height="12.2" stroke="#111" stroke-width="2.6" fill="none"/>
<rect x="727.6" y="2199.2" width="12.2" height="12.2" stroke="#111" stroke-width="2.6" fill="none"/>
<rect x="747.0" y="2215.4" width="12.2" height="12.2" stroke="#111" stroke-width="2.6" fill="none"/>
<rect x="727.6" y="2221.3" width="12.2" height="12.2" stroke="#111" stroke-width="2.6" fill="none"/>
<circle cx="835.4" cy="2260.5" r="6.30" stroke="#111" stroke-width="2.6" fill="none"/>
<circle cx="825.3" cy="2275.3" r="6.30" stroke="#111" stroke-width="2.6" fill="none"/>
<circle cx="845.5" cy="2279.9" r="6.30" stroke="#111" stroke-width="2.6" fill="none"/>
<circle cx="835.4" cy="2292.8" r="6.30" stroke="#111" stroke-width="2.6" fill="none"/>
<circle cx="835.4" cy="2316.7" r="6.30" stroke="#111" stroke-width="2.6" fill="none"/>
<circle cx="835.4" cy="2329.6" r="6.30" stroke="#111" stroke-width="2.6" fill="none"/>
<line x1="835.0" y1="2262.0" x2="835.0" y2="2274.7" stroke="#3d39a6" stroke-width="3.1" stroke-linecap="butt"/>
<line x1="818.4" y1="2262.0" x2="851.6" y2="2262.0" stroke="#3d39a6" stroke-width="3.1" stroke-linecap="butt"/>
<line x1="835.0" y1="2318.0" x2="835.0" y2="2328.7" stroke="#3d39a6" stroke-width="3.1" stroke-linecap="butt"/>
<line x1="818.4" y1="2328.7" x2="851.6" y2="2328.7" stroke="#3d39a6" stroke-width="3.1" stroke-linecap="butt"/>
<rect x="806.5" y="2274.7" width="57.1" height="43.3" stroke="#3d39a6" stroke-width="3.1" fill="none"/>
<line x1="806.5" y1="2286.3" x2="863.6" y2="2286.3" stroke="#3d39a6" stroke-width="3.1" stroke-linecap="butt"/>
<text x="812.68" y="2241.80" font-size="35" fill="#111" textLength="45.13" lengthAdjust="spacingAndGlyphs" >***</text>
</svg>
</body></html>
